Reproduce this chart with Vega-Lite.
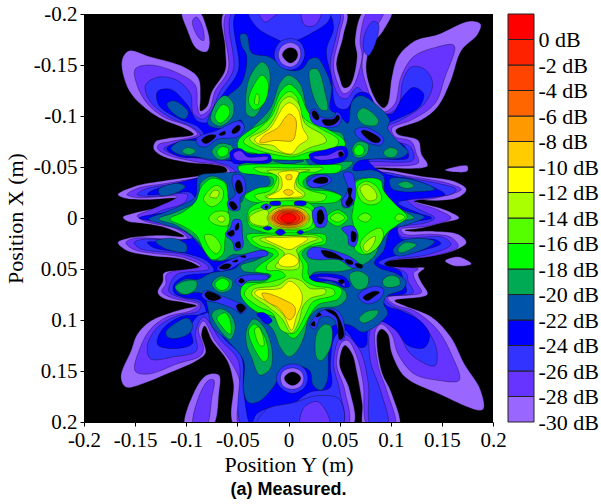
{"$schema":"https://vega.github.io/schema/vega-lite/v6.json","padding":{"left":4,"top":3,"right":0,"bottom":0},"background":"white","spacing":0,"config":{"view":{"stroke":null},"font":"Liberation Serif"},"hconcat":[{"width":409,"height":408,"view":{"fill":"black","stroke":null},"title":{"text":"(a) Measured.","orient":"bottom","font":"Liberation Sans","fontSize":18,"fontWeight":"bold","anchor":"middle","offset":6,"color":"black"},"data":{"values":[
{"p":1,"l":-30,"x":-0.062,"y":-0.203},{"p":1,"l":-30,"x":-0.062,"y":-0.167},{"p":1,"l":-30,"x":-0.062,"y":-0.145},{"p":1,"l":-30,"x":-0.075,"y":-0.124},{"p":1,"l":-30,"x":-0.08,"y":-0.109},{"p":1,"l":-30,"x":-0.086,"y":-0.105},{"p":1,"l":-30,"x":-0.086,"y":-0.119},{"p":1,"l":-30,"x":-0.088,"y":-0.137},{"p":1,"l":-30,"x":-0.102,"y":-0.148},{"p":1,"l":-30,"x":-0.135,"y":-0.158},{"p":1,"l":-30,"x":-0.156,"y":-0.164},{"p":1,"l":-30,"x":-0.163,"y":-0.154},{"p":1,"l":-30,"x":-0.156,"y":-0.125},{"p":1,"l":-30,"x":-0.138,"y":-0.106},{"p":1,"l":-30,"x":-0.122,"y":-0.096},{"p":1,"l":-30,"x":-0.102,"y":-0.088},{"p":1,"l":-30,"x":-0.093,"y":-0.082},{"p":1,"l":-30,"x":-0.119,"y":-0.078},{"p":1,"l":-30,"x":-0.13,"y":-0.075},{"p":1,"l":-30,"x":-0.132,"y":-0.068},{"p":1,"l":-30,"x":-0.122,"y":-0.06},{"p":1,"l":-30,"x":-0.102,"y":-0.055},{"p":1,"l":-30,"x":-0.063,"y":-0.05},{"p":1,"l":-30,"x":-0.06,"y":-0.046},{"p":1,"l":-30,"x":-0.09,"y":-0.041},{"p":1,"l":-30,"x":-0.119,"y":-0.037},{"p":1,"l":-30,"x":-0.151,"y":-0.031},{"p":1,"l":-30,"x":-0.167,"y":-0.023},{"p":1,"l":-30,"x":-0.159,"y":-0.019},{"p":1,"l":-30,"x":-0.135,"y":-0.018},{"p":1,"l":-30,"x":-0.109,"y":-0.019},{"p":1,"l":-30,"x":-0.125,"y":-0.011},{"p":1,"l":-30,"x":-0.151,"y":-0.005},{"p":1,"l":-30,"x":-0.162,"y":-0.001},{"p":1,"l":-30,"x":-0.158,"y":0.003},{"p":1,"l":-30,"x":-0.138,"y":0.006},{"p":1,"l":-30,"x":-0.119,"y":0.01},{"p":1,"l":-30,"x":-0.102,"y":0.018},{"p":1,"l":-30,"x":-0.125,"y":0.017},{"p":1,"l":-30,"x":-0.158,"y":0.02},{"p":1,"l":-30,"x":-0.167,"y":0.024},{"p":1,"l":-30,"x":-0.158,"y":0.032},{"p":1,"l":-30,"x":-0.135,"y":0.037},{"p":1,"l":-30,"x":-0.102,"y":0.041},{"p":1,"l":-30,"x":-0.085,"y":0.05},{"p":1,"l":-30,"x":-0.102,"y":0.051},{"p":1,"l":-30,"x":-0.122,"y":0.054},{"p":1,"l":-30,"x":-0.123,"y":0.062},{"p":1,"l":-30,"x":-0.128,"y":0.073},{"p":1,"l":-30,"x":-0.122,"y":0.079},{"p":1,"l":-30,"x":-0.102,"y":0.083},{"p":1,"l":-30,"x":-0.09,"y":0.086},{"p":1,"l":-30,"x":-0.102,"y":0.089},{"p":1,"l":-30,"x":-0.119,"y":0.094},{"p":1,"l":-30,"x":-0.135,"y":0.101},{"p":1,"l":-30,"x":-0.148,"y":0.114},{"p":1,"l":-30,"x":-0.154,"y":0.13},{"p":1,"l":-30,"x":-0.164,"y":0.156},{"p":1,"l":-30,"x":-0.159,"y":0.166},{"p":1,"l":-30,"x":-0.141,"y":0.162},{"p":1,"l":-30,"x":-0.119,"y":0.153},{"p":1,"l":-30,"x":-0.09,"y":0.14},{"p":1,"l":-30,"x":-0.081,"y":0.132},{"p":1,"l":-30,"x":-0.085,"y":0.114},{"p":1,"l":-30,"x":-0.082,"y":0.106},{"p":1,"l":-30,"x":-0.075,"y":0.12},{"p":1,"l":-30,"x":-0.06,"y":0.14},{"p":1,"l":-30,"x":-0.054,"y":0.162},{"p":1,"l":-30,"x":-0.052,"y":0.205},{"p":1,"l":-30,"x":0.062,"y":0.205},{"p":1,"l":-30,"x":0.06,"y":0.169},{"p":1,"l":-30,"x":0.05,"y":0.143},{"p":1,"l":-30,"x":0.055,"y":0.125},{"p":1,"l":-30,"x":0.062,"y":0.133},{"p":1,"l":-30,"x":0.067,"y":0.153},{"p":1,"l":-30,"x":0.072,"y":0.182},{"p":1,"l":-30,"x":0.074,"y":0.205},{"p":1,"l":-30,"x":0.108,"y":0.205},{"p":1,"l":-30,"x":0.101,"y":0.172},{"p":1,"l":-30,"x":0.091,"y":0.15},{"p":1,"l":-30,"x":0.087,"y":0.114},{"p":1,"l":-30,"x":0.091,"y":0.109},{"p":1,"l":-30,"x":0.097,"y":0.114},{"p":1,"l":-30,"x":0.101,"y":0.133},{"p":1,"l":-30,"x":0.114,"y":0.156},{"p":1,"l":-30,"x":0.146,"y":0.172},{"p":1,"l":-30,"x":0.19,"y":0.188},{"p":1,"l":-30,"x":0.188,"y":0.169},{"p":1,"l":-30,"x":0.172,"y":0.143},{"p":1,"l":-30,"x":0.159,"y":0.117},{"p":1,"l":-30,"x":0.14,"y":0.097},{"p":1,"l":-30,"x":0.114,"y":0.086},{"p":1,"l":-30,"x":0.104,"y":0.081},{"p":1,"l":-30,"x":0.136,"y":0.075},{"p":1,"l":-30,"x":0.13,"y":0.063},{"p":1,"l":-30,"x":0.127,"y":0.055},{"p":1,"l":-30,"x":0.133,"y":0.049},{"p":1,"l":-30,"x":0.107,"y":0.05},{"p":1,"l":-30,"x":0.088,"y":0.047},{"p":1,"l":-30,"x":0.097,"y":0.042},{"p":1,"l":-30,"x":0.13,"y":0.039},{"p":1,"l":-30,"x":0.162,"y":0.032},{"p":1,"l":-30,"x":0.174,"y":0.024},{"p":1,"l":-30,"x":0.166,"y":0.016},{"p":1,"l":-30,"x":0.143,"y":0.013},{"p":1,"l":-30,"x":0.12,"y":0.013},{"p":1,"l":-30,"x":0.114,"y":0.012},{"p":1,"l":-30,"x":0.13,"y":0.01},{"p":1,"l":-30,"x":0.15,"y":0.005},{"p":1,"l":-30,"x":0.167,"y":0},{"p":1,"l":-30,"x":0.153,"y":-0.008},{"p":1,"l":-30,"x":0.136,"y":-0.013},{"p":1,"l":-30,"x":0.114,"y":-0.019},{"p":1,"l":-30,"x":0.146,"y":-0.017},{"p":1,"l":-30,"x":0.166,"y":-0.02},{"p":1,"l":-30,"x":0.174,"y":-0.028},{"p":1,"l":-30,"x":0.162,"y":-0.036},{"p":1,"l":-30,"x":0.13,"y":-0.041},{"p":1,"l":-30,"x":0.104,"y":-0.046},{"p":1,"l":-30,"x":0.085,"y":-0.049},{"p":1,"l":-30,"x":0.136,"y":-0.051},{"p":1,"l":-30,"x":0.13,"y":-0.063},{"p":1,"l":-30,"x":0.127,"y":-0.076},{"p":1,"l":-30,"x":0.107,"y":-0.082},{"p":1,"l":-30,"x":0.105,"y":-0.086},{"p":1,"l":-30,"x":0.13,"y":-0.096},{"p":1,"l":-30,"x":0.146,"y":-0.109},{"p":1,"l":-30,"x":0.159,"y":-0.135},{"p":1,"l":-30,"x":0.169,"y":-0.164},{"p":1,"l":-30,"x":0.185,"y":-0.18},{"p":1,"l":-30,"x":0.188,"y":-0.19},{"p":1,"l":-30,"x":0.177,"y":-0.193},{"p":1,"l":-30,"x":0.146,"y":-0.18},{"p":1,"l":-30,"x":0.124,"y":-0.174},{"p":1,"l":-30,"x":0.107,"y":-0.158},{"p":1,"l":-30,"x":0.101,"y":-0.138},{"p":1,"l":-30,"x":0.097,"y":-0.112},{"p":1,"l":-30,"x":0.093,"y":-0.108},{"p":1,"l":-30,"x":0.088,"y":-0.112},{"p":1,"l":-30,"x":0.08,"y":-0.128},{"p":1,"l":-30,"x":0.076,"y":-0.148},{"p":1,"l":-30,"x":0.08,"y":-0.167},{"p":1,"l":-30,"x":0.093,"y":-0.184},{"p":1,"l":-30,"x":0.101,"y":-0.203},{"p":1,"l":-30,"x":0.074,"y":-0.203},{"p":1,"l":-30,"x":0.065,"y":-0.174},{"p":1,"l":-30,"x":0.067,"y":-0.158},{"p":1,"l":-30,"x":0.06,"y":-0.13},{"p":1,"l":-30,"x":0.054,"y":-0.128},{"p":1,"l":-30,"x":0.05,"y":-0.138},{"p":1,"l":-30,"x":0.047,"y":-0.151},{"p":1,"l":-30,"x":0.054,"y":-0.18},{"p":1,"l":-30,"x":0.056,"y":-0.203},
{"p":2,"l":-30,"x":-0.104,"y":-0.203},{"p":2,"l":-30,"x":-0.099,"y":-0.184},{"p":2,"l":-30,"x":-0.09,"y":-0.166},{"p":2,"l":-30,"x":-0.08,"y":-0.163},{"p":2,"l":-30,"x":-0.077,"y":-0.171},{"p":2,"l":-30,"x":-0.08,"y":-0.187},{"p":2,"l":-30,"x":-0.088,"y":-0.203},
{"p":3,"l":-30,"x":-0.101,"y":0.205},{"p":3,"l":-30,"x":-0.093,"y":0.172},{"p":3,"l":-30,"x":-0.08,"y":0.154},{"p":3,"l":-30,"x":-0.068,"y":0.154},{"p":3,"l":-30,"x":-0.068,"y":0.172},{"p":3,"l":-30,"x":-0.075,"y":0.205},
{"p":4,"l":-30,"x":0.153,"y":-0.047},{"p":4,"l":-30,"x":0.162,"y":-0.05},{"p":4,"l":-30,"x":0.175,"y":-0.051},{"p":4,"l":-30,"x":0.175,"y":-0.046},{"p":4,"l":-30,"x":0.162,"y":-0.045},
{"p":5,"l":-30,"x":0.153,"y":0.042},{"p":5,"l":-30,"x":0.166,"y":0.038},{"p":5,"l":-30,"x":0.179,"y":0.045},{"p":5,"l":-30,"x":0.162,"y":0.047},
{"p":6,"l":-28,"x":-0.059,"y":-0.203},{"p":6,"l":-28,"x":-0.059,"y":-0.145},{"p":6,"l":-28,"x":-0.072,"y":-0.124},{"p":6,"l":-28,"x":-0.077,"y":-0.107},{"p":6,"l":-28,"x":-0.086,"y":-0.101},{"p":6,"l":-28,"x":-0.089,"y":-0.109},{"p":6,"l":-28,"x":-0.091,"y":-0.13},{"p":6,"l":-28,"x":-0.106,"y":-0.141},{"p":6,"l":-28,"x":-0.135,"y":-0.15},{"p":6,"l":-28,"x":-0.15,"y":-0.146},{"p":6,"l":-28,"x":-0.148,"y":-0.13},{"p":6,"l":-28,"x":-0.138,"y":-0.112},{"p":6,"l":-28,"x":-0.122,"y":-0.099},{"p":6,"l":-28,"x":-0.096,"y":-0.089},{"p":6,"l":-28,"x":-0.089,"y":-0.082},{"p":6,"l":-28,"x":-0.115,"y":-0.075},{"p":6,"l":-28,"x":-0.127,"y":-0.072},{"p":6,"l":-28,"x":-0.128,"y":-0.068},{"p":6,"l":-28,"x":-0.119,"y":-0.062},{"p":6,"l":-28,"x":-0.09,"y":-0.055},{"p":6,"l":-28,"x":-0.063,"y":-0.051},{"p":6,"l":-28,"x":-0.057,"y":-0.045},{"p":6,"l":-28,"x":-0.09,"y":-0.039},{"p":6,"l":-28,"x":-0.119,"y":-0.034},{"p":6,"l":-28,"x":-0.148,"y":-0.029},{"p":6,"l":-28,"x":-0.158,"y":-0.023},{"p":6,"l":-28,"x":-0.148,"y":-0.02},{"p":6,"l":-28,"x":-0.109,"y":-0.021},{"p":6,"l":-28,"x":-0.135,"y":-0.008},{"p":6,"l":-28,"x":-0.148,"y":-0.002},{"p":6,"l":-28,"x":-0.141,"y":0.003},{"p":6,"l":-28,"x":-0.109,"y":0.011},{"p":6,"l":-28,"x":-0.099,"y":0.02},{"p":6,"l":-28,"x":-0.151,"y":0.02},{"p":6,"l":-28,"x":-0.159,"y":0.024},{"p":6,"l":-28,"x":-0.151,"y":0.031},{"p":6,"l":-28,"x":-0.102,"y":0.039},{"p":6,"l":-28,"x":-0.086,"y":0.047},{"p":6,"l":-28,"x":-0.119,"y":0.055},{"p":6,"l":-28,"x":-0.12,"y":0.065},{"p":6,"l":-28,"x":-0.124,"y":0.072},{"p":6,"l":-28,"x":-0.115,"y":0.078},{"p":6,"l":-28,"x":-0.088,"y":0.085},{"p":6,"l":-28,"x":-0.096,"y":0.091},{"p":6,"l":-28,"x":-0.119,"y":0.097},{"p":6,"l":-28,"x":-0.135,"y":0.109},{"p":6,"l":-28,"x":-0.145,"y":0.127},{"p":6,"l":-28,"x":-0.15,"y":0.15},{"p":6,"l":-28,"x":-0.137,"y":0.153},{"p":6,"l":-28,"x":-0.109,"y":0.143},{"p":6,"l":-28,"x":-0.086,"y":0.135},{"p":6,"l":-28,"x":-0.083,"y":0.128},{"p":6,"l":-28,"x":-0.088,"y":0.109},{"p":6,"l":-28,"x":-0.083,"y":0.101},{"p":6,"l":-28,"x":-0.072,"y":0.12},{"p":6,"l":-28,"x":-0.057,"y":0.14},{"p":6,"l":-28,"x":-0.047,"y":0.162},{"p":6,"l":-28,"x":-0.047,"y":0.205},{"p":6,"l":-28,"x":0.057,"y":0.205},{"p":6,"l":-28,"x":0.055,"y":0.169},{"p":6,"l":-28,"x":0.047,"y":0.143},{"p":6,"l":-28,"x":0.052,"y":0.122},{"p":6,"l":-28,"x":0.058,"y":0.12},{"p":6,"l":-28,"x":0.067,"y":0.136},{"p":6,"l":-28,"x":0.073,"y":0.162},{"p":6,"l":-28,"x":0.078,"y":0.205},{"p":6,"l":-28,"x":0.104,"y":0.205},{"p":6,"l":-28,"x":0.096,"y":0.169},{"p":6,"l":-28,"x":0.088,"y":0.146},{"p":6,"l":-28,"x":0.085,"y":0.11},{"p":6,"l":-28,"x":0.091,"y":0.104},{"p":6,"l":-28,"x":0.101,"y":0.114},{"p":6,"l":-28,"x":0.107,"y":0.133},{"p":6,"l":-28,"x":0.123,"y":0.153},{"p":6,"l":-28,"x":0.146,"y":0.159},{"p":6,"l":-28,"x":0.167,"y":0.159},{"p":6,"l":-28,"x":0.159,"y":0.133},{"p":6,"l":-28,"x":0.146,"y":0.11},{"p":6,"l":-28,"x":0.123,"y":0.091},{"p":6,"l":-28,"x":0.104,"y":0.085},{"p":6,"l":-28,"x":0.097,"y":0.078},{"p":6,"l":-28,"x":0.13,"y":0.073},{"p":6,"l":-28,"x":0.125,"y":0.063},{"p":6,"l":-28,"x":0.122,"y":0.054},{"p":6,"l":-28,"x":0.127,"y":0.05},{"p":6,"l":-28,"x":0.097,"y":0.047},{"p":6,"l":-28,"x":0.091,"y":0.044},{"p":6,"l":-28,"x":0.107,"y":0.041},{"p":6,"l":-28,"x":0.143,"y":0.037},{"p":6,"l":-28,"x":0.166,"y":0.028},{"p":6,"l":-28,"x":0.159,"y":0.019},{"p":6,"l":-28,"x":0.14,"y":0.016},{"p":6,"l":-28,"x":0.114,"y":0.016},{"p":6,"l":-28,"x":0.11,"y":0.011},{"p":6,"l":-28,"x":0.136,"y":0.008},{"p":6,"l":-28,"x":0.159,"y":0},{"p":6,"l":-28,"x":0.146,"y":-0.008},{"p":6,"l":-28,"x":0.123,"y":-0.016},{"p":6,"l":-28,"x":0.146,"y":-0.02},{"p":6,"l":-28,"x":0.169,"y":-0.028},{"p":6,"l":-28,"x":0.156,"y":-0.034},{"p":6,"l":-28,"x":0.13,"y":-0.039},{"p":6,"l":-28,"x":0.104,"y":-0.043},{"p":6,"l":-28,"x":0.088,"y":-0.046},{"p":6,"l":-28,"x":0.078,"y":-0.05},{"p":6,"l":-28,"x":0.127,"y":-0.054},{"p":6,"l":-28,"x":0.125,"y":-0.063},{"p":6,"l":-28,"x":0.12,"y":-0.075},{"p":6,"l":-28,"x":0.104,"y":-0.08},{"p":6,"l":-28,"x":0.101,"y":-0.088},{"p":6,"l":-28,"x":0.12,"y":-0.096},{"p":6,"l":-28,"x":0.143,"y":-0.112},{"p":6,"l":-28,"x":0.153,"y":-0.138},{"p":6,"l":-28,"x":0.162,"y":-0.169},{"p":6,"l":-28,"x":0.143,"y":-0.167},{"p":6,"l":-28,"x":0.122,"y":-0.158},{"p":6,"l":-28,"x":0.11,"y":-0.138},{"p":6,"l":-28,"x":0.104,"y":-0.112},{"p":6,"l":-28,"x":0.094,"y":-0.104},{"p":6,"l":-28,"x":0.086,"y":-0.107},{"p":6,"l":-28,"x":0.078,"y":-0.125},{"p":6,"l":-28,"x":0.072,"y":-0.148},{"p":6,"l":-28,"x":0.075,"y":-0.167},{"p":6,"l":-28,"x":0.086,"y":-0.187},{"p":6,"l":-28,"x":0.093,"y":-0.203},{"p":6,"l":-28,"x":0.078,"y":-0.203},{"p":6,"l":-28,"x":0.07,"y":-0.174},{"p":6,"l":-28,"x":0.072,"y":-0.158},{"p":6,"l":-28,"x":0.062,"y":-0.127},{"p":6,"l":-28,"x":0.054,"y":-0.122},{"p":6,"l":-28,"x":0.047,"y":-0.135},{"p":6,"l":-28,"x":0.044,"y":-0.151},{"p":6,"l":-28,"x":0.05,"y":-0.18},{"p":6,"l":-28,"x":0.052,"y":-0.203},
{"p":7,"l":-28,"x":-0.093,"y":0.205},{"p":7,"l":-28,"x":-0.088,"y":0.176},{"p":7,"l":-28,"x":-0.078,"y":0.159},{"p":7,"l":-28,"x":-0.073,"y":0.159},{"p":7,"l":-28,"x":-0.075,"y":0.176},{"p":7,"l":-28,"x":-0.081,"y":0.205},
{"p":8,"l":-28,"x":-0.094,"y":-0.193},{"p":8,"l":-28,"x":-0.088,"y":-0.177},{"p":8,"l":-28,"x":-0.083,"y":-0.174},{"p":8,"l":-28,"x":-0.084,"y":-0.187},{"p":8,"l":-28,"x":-0.09,"y":-0.197},
{"p":9,"l":-26,"x":-0.054,"y":-0.203},{"p":9,"l":-26,"x":-0.054,"y":-0.145},{"p":9,"l":-26,"x":-0.067,"y":-0.124},{"p":9,"l":-26,"x":-0.075,"y":-0.106},{"p":9,"l":-26,"x":-0.083,"y":-0.097},{"p":9,"l":-26,"x":-0.093,"y":-0.102},{"p":9,"l":-26,"x":-0.096,"y":-0.122},{"p":9,"l":-26,"x":-0.109,"y":-0.135},{"p":9,"l":-26,"x":-0.128,"y":-0.138},{"p":9,"l":-26,"x":-0.14,"y":-0.13},{"p":9,"l":-26,"x":-0.135,"y":-0.114},{"p":9,"l":-26,"x":-0.115,"y":-0.098},{"p":9,"l":-26,"x":-0.094,"y":-0.089},{"p":9,"l":-26,"x":-0.086,"y":-0.081},{"p":9,"l":-26,"x":-0.112,"y":-0.073},{"p":9,"l":-26,"x":-0.122,"y":-0.068},{"p":9,"l":-26,"x":-0.114,"y":-0.063},{"p":9,"l":-26,"x":-0.08,"y":-0.057},{"p":9,"l":-26,"x":-0.057,"y":-0.05},{"p":9,"l":-26,"x":-0.052,"y":-0.045},{"p":9,"l":-26,"x":-0.08,"y":-0.041},{"p":9,"l":-26,"x":-0.109,"y":-0.034},{"p":9,"l":-26,"x":-0.141,"y":-0.028},{"p":9,"l":-26,"x":-0.148,"y":-0.023},{"p":9,"l":-26,"x":-0.135,"y":-0.021},{"p":9,"l":-26,"x":-0.099,"y":-0.023},{"p":9,"l":-26,"x":-0.102,"y":-0.015},{"p":9,"l":-26,"x":-0.125,"y":-0.007},{"p":9,"l":-26,"x":-0.135,"y":-0.001},{"p":9,"l":-26,"x":-0.125,"y":0.003},{"p":9,"l":-26,"x":-0.102,"y":0.013},{"p":9,"l":-26,"x":-0.093,"y":0.021},{"p":9,"l":-26,"x":-0.143,"y":0.021},{"p":9,"l":-26,"x":-0.151,"y":0.024},{"p":9,"l":-26,"x":-0.145,"y":0.03},{"p":9,"l":-26,"x":-0.102,"y":0.036},{"p":9,"l":-26,"x":-0.081,"y":0.045},{"p":9,"l":-26,"x":-0.078,"y":0.05},{"p":9,"l":-26,"x":-0.109,"y":0.055},{"p":9,"l":-26,"x":-0.115,"y":0.063},{"p":9,"l":-26,"x":-0.117,"y":0.072},{"p":9,"l":-26,"x":-0.109,"y":0.077},{"p":9,"l":-26,"x":-0.086,"y":0.084},{"p":9,"l":-26,"x":-0.088,"y":0.091},{"p":9,"l":-26,"x":-0.109,"y":0.096},{"p":9,"l":-26,"x":-0.128,"y":0.107},{"p":9,"l":-26,"x":-0.138,"y":0.125},{"p":9,"l":-26,"x":-0.135,"y":0.138},{"p":9,"l":-26,"x":-0.112,"y":0.136},{"p":9,"l":-26,"x":-0.09,"y":0.13},{"p":9,"l":-26,"x":-0.091,"y":0.112},{"p":9,"l":-26,"x":-0.083,"y":0.097},{"p":9,"l":-26,"x":-0.067,"y":0.119},{"p":9,"l":-26,"x":-0.049,"y":0.14},{"p":9,"l":-26,"x":-0.044,"y":0.205},{"p":9,"l":-26,"x":0.052,"y":0.205},{"p":9,"l":-26,"x":0.05,"y":0.169},{"p":9,"l":-26,"x":0.044,"y":0.143},{"p":9,"l":-26,"x":0.049,"y":0.119},{"p":9,"l":-26,"x":0.055,"y":0.114},{"p":9,"l":-26,"x":0.07,"y":0.13},{"p":9,"l":-26,"x":0.078,"y":0.162},{"p":9,"l":-26,"x":0.081,"y":0.205},{"p":9,"l":-26,"x":0.097,"y":0.205},{"p":9,"l":-26,"x":0.089,"y":0.166},{"p":9,"l":-26,"x":0.08,"y":0.14},{"p":9,"l":-26,"x":0.081,"y":0.107},{"p":9,"l":-26,"x":0.091,"y":0.101},{"p":9,"l":-26,"x":0.107,"y":0.112},{"p":9,"l":-26,"x":0.119,"y":0.133},{"p":9,"l":-26,"x":0.143,"y":0.145},{"p":9,"l":-26,"x":0.145,"y":0.13},{"p":9,"l":-26,"x":0.136,"y":0.11},{"p":9,"l":-26,"x":0.12,"y":0.094},{"p":9,"l":-26,"x":0.101,"y":0.086},{"p":9,"l":-26,"x":0.094,"y":0.078},{"p":9,"l":-26,"x":0.122,"y":0.073},{"p":9,"l":-26,"x":0.117,"y":0.062},{"p":9,"l":-26,"x":0.115,"y":0.054},{"p":9,"l":-26,"x":0.094,"y":0.045},{"p":9,"l":-26,"x":0.101,"y":0.041},{"p":9,"l":-26,"x":0.136,"y":0.036},{"p":9,"l":-26,"x":0.159,"y":0.026},{"p":9,"l":-26,"x":0.151,"y":0.019},{"p":9,"l":-26,"x":0.11,"y":0.018},{"p":9,"l":-26,"x":0.107,"y":0.01},{"p":9,"l":-26,"x":0.133,"y":0.005},{"p":9,"l":-26,"x":0.143,"y":0},{"p":9,"l":-26,"x":0.123,"y":-0.011},{"p":9,"l":-26,"x":0.114,"y":-0.021},{"p":9,"l":-26,"x":0.159,"y":-0.023},{"p":9,"l":-26,"x":0.164,"y":-0.028},{"p":9,"l":-26,"x":0.146,"y":-0.034},{"p":9,"l":-26,"x":0.12,"y":-0.039},{"p":9,"l":-26,"x":0.101,"y":-0.044},{"p":9,"l":-26,"x":0.081,"y":-0.047},{"p":9,"l":-26,"x":0.075,"y":-0.054},{"p":9,"l":-26,"x":0.122,"y":-0.057},{"p":9,"l":-26,"x":0.119,"y":-0.07},{"p":9,"l":-26,"x":0.097,"y":-0.078},{"p":9,"l":-26,"x":0.096,"y":-0.089},{"p":9,"l":-26,"x":0.11,"y":-0.096},{"p":9,"l":-26,"x":0.133,"y":-0.112},{"p":9,"l":-26,"x":0.141,"y":-0.132},{"p":9,"l":-26,"x":0.133,"y":-0.146},{"p":9,"l":-26,"x":0.12,"y":-0.148},{"p":9,"l":-26,"x":0.112,"y":-0.135},{"p":9,"l":-26,"x":0.107,"y":-0.109},{"p":9,"l":-26,"x":0.093,"y":-0.101},{"p":9,"l":-26,"x":0.083,"y":-0.106},{"p":9,"l":-26,"x":0.076,"y":-0.119},{"p":9,"l":-26,"x":0.067,"y":-0.128},{"p":9,"l":-26,"x":0.057,"y":-0.117},{"p":9,"l":-26,"x":0.05,"y":-0.119},{"p":9,"l":-26,"x":0.042,"y":-0.138},{"p":9,"l":-26,"x":0.041,"y":-0.154},{"p":9,"l":-26,"x":0.047,"y":-0.18},{"p":9,"l":-26,"x":0.049,"y":-0.203},
{"p":10,"l":-26,"x":0.073,"y":-0.167},{"p":10,"l":-26,"x":0.078,"y":-0.159},{"p":10,"l":-26,"x":0.086,"y":-0.174},{"p":10,"l":-26,"x":0.088,"y":-0.19},{"p":10,"l":-26,"x":0.083,"y":-0.193},{"p":10,"l":-26,"x":0.076,"y":-0.184},
{"p":11,"l":-24,"x":-0.05,"y":-0.203},{"p":11,"l":-24,"x":-0.049,"y":-0.145},{"p":11,"l":-24,"x":-0.062,"y":-0.124},{"p":11,"l":-24,"x":-0.073,"y":-0.109},{"p":11,"l":-24,"x":-0.078,"y":-0.094},{"p":11,"l":-24,"x":-0.089,"y":-0.095},{"p":11,"l":-24,"x":-0.099,"y":-0.111},{"p":11,"l":-24,"x":-0.115,"y":-0.126},{"p":11,"l":-24,"x":-0.128,"y":-0.124},{"p":11,"l":-24,"x":-0.127,"y":-0.111},{"p":11,"l":-24,"x":-0.109,"y":-0.098},{"p":11,"l":-24,"x":-0.088,"y":-0.089},{"p":11,"l":-24,"x":-0.083,"y":-0.081},{"p":11,"l":-24,"x":-0.106,"y":-0.075},{"p":11,"l":-24,"x":-0.119,"y":-0.068},{"p":11,"l":-24,"x":-0.106,"y":-0.06},{"p":11,"l":-24,"x":-0.08,"y":-0.059},{"p":11,"l":-24,"x":-0.047,"y":-0.052},{"p":11,"l":-24,"x":-0.047,"y":-0.044},{"p":11,"l":-24,"x":-0.073,"y":-0.042},{"p":11,"l":-24,"x":-0.102,"y":-0.036},{"p":11,"l":-24,"x":-0.135,"y":-0.026},{"p":11,"l":-24,"x":-0.138,"y":-0.023},{"p":11,"l":-24,"x":-0.109,"y":-0.025},{"p":11,"l":-24,"x":-0.096,"y":-0.025},{"p":11,"l":-24,"x":-0.09,"y":-0.015},{"p":11,"l":-24,"x":-0.106,"y":-0.008},{"p":11,"l":-24,"x":-0.146,"y":0},{"p":11,"l":-24,"x":-0.102,"y":0.008},{"p":11,"l":-24,"x":-0.089,"y":0.018},{"p":11,"l":-24,"x":-0.13,"y":0.023},{"p":11,"l":-24,"x":-0.138,"y":0.024},{"p":11,"l":-24,"x":-0.132,"y":0.029},{"p":11,"l":-24,"x":-0.099,"y":0.035},{"p":11,"l":-24,"x":-0.08,"y":0.042},{"p":11,"l":-24,"x":-0.073,"y":0.052},{"p":11,"l":-24,"x":-0.102,"y":0.057},{"p":11,"l":-24,"x":-0.112,"y":0.065},{"p":11,"l":-24,"x":-0.112,"y":0.073},{"p":11,"l":-24,"x":-0.102,"y":0.078},{"p":11,"l":-24,"x":-0.086,"y":0.081},{"p":11,"l":-24,"x":-0.081,"y":0.093},{"p":11,"l":-24,"x":-0.106,"y":0.097},{"p":11,"l":-24,"x":-0.124,"y":0.11},{"p":11,"l":-24,"x":-0.128,"y":0.124},{"p":11,"l":-24,"x":-0.112,"y":0.128},{"p":11,"l":-24,"x":-0.094,"y":0.123},{"p":11,"l":-24,"x":-0.096,"y":0.107},{"p":11,"l":-24,"x":-0.086,"y":0.094},{"p":11,"l":-24,"x":-0.076,"y":0.094},{"p":11,"l":-24,"x":-0.064,"y":0.117},{"p":11,"l":-24,"x":-0.046,"y":0.136},{"p":11,"l":-24,"x":-0.044,"y":0.169},{"p":11,"l":-24,"x":-0.037,"y":0.203},{"p":11,"l":-24,"x":-0.031,"y":0.192},{"p":11,"l":-24,"x":-0.015,"y":0.185},{"p":11,"l":-24,"x":0,"y":0.185},{"p":11,"l":-24,"x":0.02,"y":0.171},{"p":11,"l":-24,"x":0.041,"y":0.166},{"p":11,"l":-24,"x":0.041,"y":0.143},{"p":11,"l":-24,"x":0.045,"y":0.117},{"p":11,"l":-24,"x":0.054,"y":0.109},{"p":11,"l":-24,"x":0.07,"y":0.127},{"p":11,"l":-24,"x":0.076,"y":0.125},{"p":11,"l":-24,"x":0.078,"y":0.109},{"p":11,"l":-24,"x":0.088,"y":0.101},{"p":11,"l":-24,"x":0.104,"y":0.109},{"p":11,"l":-24,"x":0.117,"y":0.125},{"p":11,"l":-24,"x":0.133,"y":0.127},{"p":11,"l":-24,"x":0.138,"y":0.115},{"p":11,"l":-24,"x":0.13,"y":0.102},{"p":11,"l":-24,"x":0.11,"y":0.091},{"p":11,"l":-24,"x":0.096,"y":0.086},{"p":11,"l":-24,"x":0.091,"y":0.078},{"p":11,"l":-24,"x":0.115,"y":0.073},{"p":11,"l":-24,"x":0.112,"y":0.06},{"p":11,"l":-24,"x":0.109,"y":0.052},{"p":11,"l":-24,"x":0.088,"y":0.044},{"p":11,"l":-24,"x":0.097,"y":0.039},{"p":11,"l":-24,"x":0.13,"y":0.032},{"p":11,"l":-24,"x":0.149,"y":0.025},{"p":11,"l":-24,"x":0.143,"y":0.021},{"p":11,"l":-24,"x":0.11,"y":0.02},{"p":11,"l":-24,"x":0.107,"y":0.008},{"p":11,"l":-24,"x":0.14,"y":0},{"p":11,"l":-24,"x":0.127,"y":-0.005},{"p":11,"l":-24,"x":0.107,"y":-0.015},{"p":11,"l":-24,"x":0.153,"y":-0.023},{"p":11,"l":-24,"x":0.146,"y":-0.028},{"p":11,"l":-24,"x":0.12,"y":-0.038},{"p":11,"l":-24,"x":0.104,"y":-0.041},{"p":11,"l":-24,"x":0.093,"y":-0.044},{"p":11,"l":-24,"x":0.078,"y":-0.057},{"p":11,"l":-24,"x":0.117,"y":-0.059},{"p":11,"l":-24,"x":0.112,"y":-0.072},{"p":11,"l":-24,"x":0.091,"y":-0.078},{"p":11,"l":-24,"x":0.088,"y":-0.089},{"p":11,"l":-24,"x":0.104,"y":-0.096},{"p":11,"l":-24,"x":0.128,"y":-0.109},{"p":11,"l":-24,"x":0.132,"y":-0.122},{"p":11,"l":-24,"x":0.122,"y":-0.128},{"p":11,"l":-24,"x":0.112,"y":-0.119},{"p":11,"l":-24,"x":0.101,"y":-0.102},{"p":11,"l":-24,"x":0.088,"y":-0.106},{"p":11,"l":-24,"x":0.078,"y":-0.122},{"p":11,"l":-24,"x":0.067,"y":-0.122},{"p":11,"l":-24,"x":0.057,"y":-0.107},{"p":11,"l":-24,"x":0.047,"y":-0.109},{"p":11,"l":-24,"x":0.042,"y":-0.138},{"p":11,"l":-24,"x":0.037,"y":-0.164},{"p":11,"l":-24,"x":0.044,"y":-0.187},{"p":11,"l":-24,"x":0.037,"y":-0.203},
{"p":12,"l":-26,"x":-0.039,"y":-0.203},{"p":12,"l":-26,"x":-0.031,"y":-0.187},{"p":12,"l":-26,"x":-0.015,"y":-0.177},{"p":12,"l":-26,"x":0,"y":-0.172},{"p":12,"l":-26,"x":0.029,"y":-0.185},{"p":12,"l":-26,"x":0.039,"y":-0.193},{"p":12,"l":-26,"x":0.041,"y":-0.203},
{"p":13,"l":-28,"x":-0.029,"y":-0.203},{"p":13,"l":-28,"x":-0.023,"y":-0.192},{"p":13,"l":-28,"x":-0.015,"y":-0.197},{"p":13,"l":-28,"x":-0.008,"y":-0.203},
{"p":14,"l":-28,"x":0.013,"y":-0.203},{"p":14,"l":-28,"x":0.016,"y":-0.189},{"p":14,"l":-28,"x":0.026,"y":-0.189},{"p":14,"l":-28,"x":0.032,"y":-0.203},
{"p":15,"l":-26,"x":-0.031,"y":0.205},{"p":15,"l":-26,"x":-0.022,"y":0.188},{"p":15,"l":-26,"x":0.005,"y":0.181},{"p":15,"l":-26,"x":0.03,"y":0.174},{"p":15,"l":-26,"x":0.05,"y":0.178},{"p":15,"l":-26,"x":0.052,"y":0.205},
{"p":16,"l":-28,"x":0.012,"y":0.205},{"p":16,"l":-28,"x":0.015,"y":0.186},{"p":16,"l":-28,"x":0.028,"y":0.18},{"p":16,"l":-28,"x":0.038,"y":0.192},{"p":16,"l":-28,"x":0.04,"y":0.205},
{"p":17,"l":-22,"x":-0.036,"y":-0.162},{"p":17,"l":-22,"x":-0.041,"y":-0.18},{"p":17,"l":-22,"x":-0.047,"y":-0.18},{"p":17,"l":-22,"x":-0.046,"y":-0.169},{"p":17,"l":-22,"x":-0.041,"y":-0.159},{"p":17,"l":-22,"x":-0.046,"y":-0.132},{"p":17,"l":-22,"x":-0.06,"y":-0.119},{"p":17,"l":-22,"x":-0.075,"y":-0.104},{"p":17,"l":-22,"x":-0.079,"y":-0.092},{"p":17,"l":-22,"x":-0.07,"y":-0.088},{"p":17,"l":-22,"x":-0.057,"y":-0.089},{"p":17,"l":-22,"x":-0.047,"y":-0.096},{"p":17,"l":-22,"x":-0.044,"y":-0.088},{"p":17,"l":-22,"x":-0.063,"y":-0.08},{"p":17,"l":-22,"x":-0.081,"y":-0.075},{"p":17,"l":-22,"x":-0.093,"y":-0.076},{"p":17,"l":-22,"x":-0.107,"y":-0.075},{"p":17,"l":-22,"x":-0.115,"y":-0.068},{"p":17,"l":-22,"x":-0.106,"y":-0.062},{"p":17,"l":-22,"x":-0.09,"y":-0.06},{"p":17,"l":-22,"x":-0.076,"y":-0.057},{"p":17,"l":-22,"x":-0.044,"y":-0.055},{"p":17,"l":-22,"x":-0.044,"y":-0.047},{"p":17,"l":-22,"x":-0.07,"y":-0.044},{"p":17,"l":-22,"x":-0.088,"y":-0.041},{"p":17,"l":-22,"x":-0.091,"y":-0.021},{"p":17,"l":-22,"x":-0.106,"y":-0.012},{"p":17,"l":-22,"x":-0.12,"y":-0.006},{"p":17,"l":-22,"x":-0.137,"y":0.001},{"p":17,"l":-22,"x":-0.12,"y":0.007},{"p":17,"l":-22,"x":-0.1,"y":0.014},{"p":17,"l":-22,"x":-0.086,"y":0.028},{"p":17,"l":-22,"x":-0.075,"y":0.042},{"p":17,"l":-22,"x":-0.057,"y":0.041},{"p":17,"l":-22,"x":-0.047,"y":0.042},{"p":17,"l":-22,"x":-0.052,"y":0.049},{"p":17,"l":-22,"x":-0.076,"y":0.054},{"p":17,"l":-22,"x":-0.088,"y":0.06},{"p":17,"l":-22,"x":-0.102,"y":0.06},{"p":17,"l":-22,"x":-0.111,"y":0.067},{"p":17,"l":-22,"x":-0.106,"y":0.075},{"p":17,"l":-22,"x":-0.091,"y":0.073},{"p":17,"l":-22,"x":-0.083,"y":0.075},{"p":17,"l":-22,"x":-0.079,"y":0.088},{"p":17,"l":-22,"x":-0.075,"y":0.106},{"p":17,"l":-22,"x":-0.06,"y":0.12},{"p":17,"l":-22,"x":-0.044,"y":0.14},{"p":17,"l":-22,"x":-0.044,"y":0.169},{"p":17,"l":-22,"x":-0.039,"y":0.181},{"p":17,"l":-22,"x":-0.029,"y":0.18},{"p":17,"l":-22,"x":-0.015,"y":0.166},{"p":17,"l":-22,"x":-0.007,"y":0.153},{"p":17,"l":-22,"x":0,"y":0.146},{"p":17,"l":-22,"x":0.01,"y":0.145},{"p":17,"l":-22,"x":0.021,"y":0.15},{"p":17,"l":-22,"x":0.024,"y":0.164},{"p":17,"l":-22,"x":0.032,"y":0.169},{"p":17,"l":-22,"x":0.038,"y":0.159},{"p":17,"l":-22,"x":0.039,"y":0.136},{"p":17,"l":-22,"x":0.042,"y":0.107},{"p":17,"l":-22,"x":0.052,"y":0.104},{"p":17,"l":-22,"x":0.062,"y":0.106},{"p":17,"l":-22,"x":0.073,"y":0.112},{"p":17,"l":-22,"x":0.097,"y":0.094},{"p":17,"l":-22,"x":0.093,"y":0.083},{"p":17,"l":-22,"x":0.097,"y":0.076},{"p":17,"l":-22,"x":0.112,"y":0.07},{"p":17,"l":-22,"x":0.115,"y":0.062},{"p":17,"l":-22,"x":0.104,"y":0.054},{"p":17,"l":-22,"x":0.089,"y":0.049},{"p":17,"l":-22,"x":0.084,"y":0.044},{"p":17,"l":-22,"x":0.093,"y":0.032},{"p":17,"l":-22,"x":0.1,"y":0.012},{"p":17,"l":-22,"x":0.115,"y":0.007},{"p":17,"l":-22,"x":0.133,"y":-0.001},{"p":17,"l":-22,"x":0.115,"y":-0.007},{"p":17,"l":-22,"x":0.1,"y":-0.014},{"p":17,"l":-22,"x":0.094,"y":-0.025},{"p":17,"l":-22,"x":0.093,"y":-0.041},{"p":17,"l":-22,"x":0.083,"y":-0.047},{"p":17,"l":-22,"x":0.063,"y":-0.047},{"p":17,"l":-22,"x":0.067,"y":-0.055},{"p":17,"l":-22,"x":0.086,"y":-0.058},{"p":17,"l":-22,"x":0.11,"y":-0.059},{"p":17,"l":-22,"x":0.117,"y":-0.065},{"p":17,"l":-22,"x":0.11,"y":-0.072},{"p":17,"l":-22,"x":0.097,"y":-0.088},{"p":17,"l":-22,"x":0.099,"y":-0.096},{"p":17,"l":-22,"x":0.085,"y":-0.112},{"p":17,"l":-22,"x":0.07,"y":-0.12},{"p":17,"l":-22,"x":0.062,"y":-0.114},{"p":17,"l":-22,"x":0.058,"y":-0.093},{"p":17,"l":-22,"x":0.049,"y":-0.102},{"p":17,"l":-22,"x":0.041,"y":-0.106},{"p":17,"l":-22,"x":0.042,"y":-0.128},{"p":17,"l":-22,"x":0.036,"y":-0.145},{"p":17,"l":-22,"x":0.028,"y":-0.157},{"p":17,"l":-22,"x":0.021,"y":-0.156},{"p":17,"l":-22,"x":0.013,"y":-0.146},{"p":17,"l":-22,"x":0,"y":-0.145},{"p":17,"l":-22,"x":-0.019,"y":-0.158},
{"p":18,"l":-22,"x":-0.119,"y":-0.112},{"p":18,"l":-22,"x":-0.112,"y":-0.115},{"p":18,"l":-22,"x":-0.098,"y":-0.104},{"p":18,"l":-22,"x":-0.101,"y":-0.097},{"p":18,"l":-22,"x":-0.112,"y":-0.102},
{"p":19,"l":-22,"x":-0.127,"y":-0.028},{"p":19,"l":-22,"x":-0.109,"y":-0.034},{"p":19,"l":-22,"x":-0.101,"y":-0.031},{"p":19,"l":-22,"x":-0.109,"y":-0.025},{"p":19,"l":-22,"x":-0.125,"y":-0.022},
{"p":20,"l":-22,"x":-0.13,"y":0.023},{"p":20,"l":-22,"x":-0.112,"y":0.02},{"p":20,"l":-22,"x":-0.1,"y":0.026},{"p":20,"l":-22,"x":-0.1,"y":0.033},{"p":20,"l":-22,"x":-0.118,"y":0.031},
{"p":21,"l":-22,"x":-0.12,"y":0.112},{"p":21,"l":-22,"x":-0.112,"y":0.104},{"p":21,"l":-22,"x":-0.099,"y":0.098},{"p":21,"l":-22,"x":-0.094,"y":0.104},{"p":21,"l":-22,"x":-0.096,"y":0.112},{"p":21,"l":-22,"x":-0.109,"y":0.118},{"p":21,"l":-22,"x":-0.118,"y":0.117},
{"p":22,"l":-22,"x":0.102,"y":0.032},{"p":22,"l":-22,"x":0.11,"y":0.023},{"p":22,"l":-22,"x":0.13,"y":0.02},{"p":22,"l":-22,"x":0.143,"y":0.023},{"p":22,"l":-22,"x":0.136,"y":0.029},{"p":22,"l":-22,"x":0.12,"y":0.035},{"p":22,"l":-22,"x":0.106,"y":0.037},
{"p":23,"l":-22,"x":0.099,"y":-0.038},{"p":23,"l":-22,"x":0.114,"y":-0.039},{"p":23,"l":-22,"x":0.14,"y":-0.031},{"p":23,"l":-22,"x":0.143,"y":-0.028},{"p":23,"l":-22,"x":0.13,"y":-0.026},{"p":23,"l":-22,"x":0.11,"y":-0.026},{"p":23,"l":-22,"x":0.101,"y":-0.029},
{"p":24,"l":-20,"x":0,"y":-0.14},{"p":24,"l":-20,"x":-0.008,"y":-0.133},{"p":24,"l":-20,"x":-0.018,"y":-0.107},{"p":24,"l":-20,"x":-0.036,"y":-0.088},{"p":24,"l":-20,"x":-0.047,"y":-0.076},{"p":24,"l":-20,"x":-0.049,"y":-0.067},{"p":24,"l":-20,"x":-0.037,"y":-0.063},{"p":24,"l":-20,"x":-0.018,"y":-0.063},{"p":24,"l":-20,"x":-0.016,"y":-0.056},{"p":24,"l":-20,"x":-0.044,"y":-0.054},{"p":24,"l":-20,"x":-0.05,"y":-0.05},{"p":24,"l":-20,"x":-0.044,"y":-0.046},{"p":24,"l":-20,"x":-0.021,"y":-0.041},{"p":24,"l":-20,"x":-0.018,"y":-0.034},{"p":24,"l":-20,"x":-0.034,"y":-0.026},{"p":24,"l":-20,"x":-0.041,"y":-0.025},{"p":24,"l":-20,"x":-0.047,"y":-0.015},{"p":24,"l":-20,"x":-0.06,"y":-0.02},{"p":24,"l":-20,"x":-0.06,"y":-0.033},{"p":24,"l":-20,"x":-0.067,"y":-0.039},{"p":24,"l":-20,"x":-0.076,"y":-0.041},{"p":24,"l":-20,"x":-0.086,"y":-0.034},{"p":24,"l":-20,"x":-0.088,"y":-0.018},{"p":24,"l":-20,"x":-0.11,"y":-0.006},{"p":24,"l":-20,"x":-0.127,"y":0.001},{"p":24,"l":-20,"x":-0.11,"y":0.007},{"p":24,"l":-20,"x":-0.088,"y":0.023},{"p":24,"l":-20,"x":-0.078,"y":0.038},{"p":24,"l":-20,"x":-0.065,"y":0.042},{"p":24,"l":-20,"x":-0.055,"y":0.036},{"p":24,"l":-20,"x":-0.044,"y":0.036},{"p":24,"l":-20,"x":-0.024,"y":0.032},{"p":24,"l":-20,"x":-0.02,"y":0.034},{"p":24,"l":-20,"x":-0.031,"y":0.041},{"p":24,"l":-20,"x":-0.047,"y":0.047},{"p":24,"l":-20,"x":-0.044,"y":0.052},{"p":24,"l":-20,"x":-0.02,"y":0.055},{"p":24,"l":-20,"x":-0.018,"y":0.058},{"p":24,"l":-20,"x":-0.041,"y":0.062},{"p":24,"l":-20,"x":-0.046,"y":0.073},{"p":24,"l":-20,"x":-0.041,"y":0.084},{"p":24,"l":-20,"x":-0.031,"y":0.093},{"p":24,"l":-20,"x":-0.015,"y":0.11},{"p":24,"l":-20,"x":-0.008,"y":0.127},{"p":24,"l":-20,"x":0,"y":0.136},{"p":24,"l":-20,"x":0.007,"y":0.132},{"p":24,"l":-20,"x":0.015,"y":0.117},{"p":24,"l":-20,"x":0.02,"y":0.098},{"p":24,"l":-20,"x":0.029,"y":0.089},{"p":24,"l":-20,"x":0.049,"y":0.086},{"p":24,"l":-20,"x":0.057,"y":0.078},{"p":24,"l":-20,"x":0.054,"y":0.07},{"p":24,"l":-20,"x":0.032,"y":0.063},{"p":24,"l":-20,"x":0.022,"y":0.06},{"p":24,"l":-20,"x":0.024,"y":0.054},{"p":24,"l":-20,"x":0.054,"y":0.052},{"p":24,"l":-20,"x":0.076,"y":0.044},{"p":24,"l":-20,"x":0.085,"y":0.036},{"p":24,"l":-20,"x":0.091,"y":0.02},{"p":24,"l":-20,"x":0.097,"y":0.008},{"p":24,"l":-20,"x":0.11,"y":0.003},{"p":24,"l":-20,"x":0.123,"y":0},{"p":24,"l":-20,"x":0.11,"y":-0.008},{"p":24,"l":-20,"x":0.097,"y":-0.015},{"p":24,"l":-20,"x":0.091,"y":-0.028},{"p":24,"l":-20,"x":0.081,"y":-0.037},{"p":24,"l":-20,"x":0.071,"y":-0.039},{"p":24,"l":-20,"x":0.063,"y":-0.034},{"p":24,"l":-20,"x":0.067,"y":-0.018},{"p":24,"l":-20,"x":0.054,"y":-0.01},{"p":24,"l":-20,"x":0.049,"y":-0.023},{"p":24,"l":-20,"x":0.032,"y":-0.029},{"p":24,"l":-20,"x":0.02,"y":-0.031},{"p":24,"l":-20,"x":0.018,"y":-0.039},{"p":24,"l":-20,"x":0.032,"y":-0.044},{"p":24,"l":-20,"x":0.055,"y":-0.047},{"p":24,"l":-20,"x":0.063,"y":-0.055},{"p":24,"l":-20,"x":0.021,"y":-0.052},{"p":24,"l":-20,"x":0.018,"y":-0.055},{"p":24,"l":-20,"x":0.016,"y":-0.065},{"p":24,"l":-20,"x":0.042,"y":-0.07},{"p":24,"l":-20,"x":0.054,"y":-0.075},{"p":24,"l":-20,"x":0.052,"y":-0.083},{"p":24,"l":-20,"x":0.039,"y":-0.086},{"p":24,"l":-20,"x":0.023,"y":-0.093},{"p":24,"l":-20,"x":0.018,"y":-0.107},{"p":24,"l":-20,"x":0.011,"y":-0.132},
{"p":25,"l":-20,"x":-0.042,"y":-0.115},{"p":25,"l":-20,"x":-0.038,"y":-0.138},{"p":25,"l":-20,"x":-0.026,"y":-0.153},{"p":25,"l":-20,"x":-0.02,"y":-0.148},{"p":25,"l":-20,"x":-0.018,"y":-0.132},{"p":25,"l":-20,"x":-0.025,"y":-0.112},{"p":25,"l":-20,"x":-0.034,"y":-0.099},{"p":25,"l":-20,"x":-0.041,"y":-0.102},
{"p":26,"l":-20,"x":-0.076,"y":-0.096},{"p":26,"l":-20,"x":-0.07,"y":-0.114},{"p":26,"l":-20,"x":-0.062,"y":-0.12},{"p":26,"l":-20,"x":-0.054,"y":-0.112},{"p":26,"l":-20,"x":-0.055,"y":-0.099},{"p":26,"l":-20,"x":-0.067,"y":-0.09},
{"p":27,"l":-20,"x":-0.104,"y":-0.065},{"p":27,"l":-20,"x":-0.099,"y":-0.069},{"p":27,"l":-20,"x":-0.091,"y":-0.066},{"p":27,"l":-20,"x":-0.096,"y":-0.062},
{"p":28,"l":-20,"x":-0.075,"y":-0.065},{"p":28,"l":-20,"x":-0.067,"y":-0.073},{"p":28,"l":-20,"x":-0.055,"y":-0.07},{"p":28,"l":-20,"x":-0.055,"y":-0.062},{"p":28,"l":-20,"x":-0.067,"y":-0.057},
{"p":29,"l":-20,"x":0.06,"y":0.055},{"p":29,"l":-20,"x":0.068,"y":0.052},{"p":29,"l":-20,"x":0.078,"y":0.058},{"p":29,"l":-20,"x":0.076,"y":0.068},{"p":29,"l":-20,"x":0.067,"y":0.07},{"p":29,"l":-20,"x":0.061,"y":0.063},
{"p":30,"l":-20,"x":0.092,"y":0.062},{"p":30,"l":-20,"x":0.097,"y":0.057},{"p":30,"l":-20,"x":0.107,"y":0.058},{"p":30,"l":-20,"x":0.109,"y":0.065},{"p":30,"l":-20,"x":0.101,"y":0.068},{"p":30,"l":-20,"x":0.094,"y":0.067},
{"p":31,"l":-20,"x":0.069,"y":0.099},{"p":31,"l":-20,"x":0.076,"y":0.092},{"p":31,"l":-20,"x":0.088,"y":0.091},{"p":31,"l":-20,"x":0.085,"y":0.097},{"p":31,"l":-20,"x":0.073,"y":0.103},
{"p":32,"l":-20,"x":0.067,"y":-0.101},{"p":32,"l":-20,"x":0.073,"y":-0.108},{"p":32,"l":-20,"x":0.088,"y":-0.096},{"p":32,"l":-20,"x":0.086,"y":-0.091},{"p":32,"l":-20,"x":0.073,"y":-0.092},
{"p":33,"l":-20,"x":0.093,"y":-0.064},{"p":33,"l":-20,"x":0.099,"y":-0.069},{"p":33,"l":-20,"x":0.107,"y":-0.066},{"p":33,"l":-20,"x":0.104,"y":-0.06},{"p":33,"l":-20,"x":0.096,"y":-0.06},
{"p":34,"l":-20,"x":0.062,"y":-0.067},{"p":34,"l":-20,"x":0.068,"y":-0.075},{"p":34,"l":-20,"x":0.078,"y":-0.072},{"p":34,"l":-20,"x":0.076,"y":-0.062},{"p":34,"l":-20,"x":0.067,"y":-0.059},
{"p":35,"l":-20,"x":0.021,"y":-0.145},{"p":35,"l":-20,"x":0.028,"y":-0.146},{"p":35,"l":-20,"x":0.036,"y":-0.122},{"p":35,"l":-20,"x":0.038,"y":-0.106},{"p":35,"l":-20,"x":0.032,"y":-0.106},{"p":35,"l":-20,"x":0.026,"y":-0.115},{"p":35,"l":-20,"x":0.021,"y":-0.132},
{"p":36,"l":-20,"x":0.107,"y":-0.033},{"p":36,"l":-20,"x":0.115,"y":-0.036},{"p":36,"l":-20,"x":0.123,"y":-0.031},{"p":36,"l":-20,"x":0.114,"y":-0.029},
{"p":37,"l":-20,"x":0.107,"y":0.031},{"p":37,"l":-20,"x":0.114,"y":0.024},{"p":37,"l":-20,"x":0.125,"y":0.026},{"p":37,"l":-20,"x":0.117,"y":0.032},{"p":37,"l":-20,"x":0.109,"y":0.034},
{"p":38,"l":-20,"x":-0.111,"y":0.068},{"p":38,"l":-20,"x":-0.102,"y":0.062},{"p":38,"l":-20,"x":-0.09,"y":0.062},{"p":38,"l":-20,"x":-0.091,"y":0.07},{"p":38,"l":-20,"x":-0.102,"y":0.075},
{"p":39,"l":-20,"x":-0.075,"y":0.065},{"p":39,"l":-20,"x":-0.067,"y":0.057},{"p":39,"l":-20,"x":-0.055,"y":0.062},{"p":39,"l":-20,"x":-0.057,"y":0.07},{"p":39,"l":-20,"x":-0.067,"y":0.073},
{"p":40,"l":-20,"x":-0.075,"y":0.094},{"p":40,"l":-20,"x":-0.067,"y":0.089},{"p":40,"l":-20,"x":-0.057,"y":0.094},{"p":40,"l":-20,"x":-0.052,"y":0.107},{"p":40,"l":-20,"x":-0.057,"y":0.119},{"p":40,"l":-20,"x":-0.067,"y":0.11},
{"p":41,"l":-20,"x":-0.041,"y":0.109},{"p":41,"l":-20,"x":-0.034,"y":0.099},{"p":41,"l":-20,"x":-0.024,"y":0.107},{"p":41,"l":-20,"x":-0.016,"y":0.13},{"p":41,"l":-20,"x":-0.018,"y":0.148},{"p":41,"l":-20,"x":-0.028,"y":0.154},{"p":41,"l":-20,"x":-0.036,"y":0.137},{"p":41,"l":-20,"x":-0.041,"y":0.124},
{"p":42,"l":-20,"x":0.026,"y":0.13},{"p":42,"l":-20,"x":0.028,"y":0.112},{"p":42,"l":-20,"x":0.036,"y":0.104},{"p":42,"l":-20,"x":0.042,"y":0.107},{"p":42,"l":-20,"x":0.041,"y":0.127},{"p":42,"l":-20,"x":0.032,"y":0.14},{"p":42,"l":-20,"x":0.028,"y":0.138},
{"p":125,"l":-22,"x":-0.015,"y":-0.056},{"p":125,"l":-22,"x":0,"y":-0.057},{"p":125,"l":-22,"x":0.015,"y":-0.056},{"p":125,"l":-22,"x":0,"y":-0.053},
{"p":43,"l":-18,"x":-0.039,"y":-0.114},{"p":43,"l":-18,"x":-0.034,"y":-0.13},{"p":43,"l":-18,"x":-0.026,"y":-0.14},{"p":43,"l":-18,"x":-0.02,"y":-0.133},{"p":43,"l":-18,"x":-0.023,"y":-0.114},{"p":43,"l":-18,"x":-0.033,"y":-0.106},
{"p":44,"l":-18,"x":-0.072,"y":-0.099},{"p":44,"l":-18,"x":-0.065,"y":-0.111},{"p":44,"l":-18,"x":-0.059,"y":-0.109},{"p":44,"l":-18,"x":-0.058,"y":-0.101},{"p":44,"l":-18,"x":-0.067,"y":-0.093},
{"p":45,"l":-18,"x":-0.07,"y":-0.065},{"p":45,"l":-18,"x":-0.065,"y":-0.07},{"p":45,"l":-18,"x":-0.059,"y":-0.068},{"p":45,"l":-18,"x":-0.06,"y":-0.062},{"p":45,"l":-18,"x":-0.067,"y":-0.06},
{"p":46,"l":-18,"x":0.064,"y":-0.067},{"p":46,"l":-18,"x":0.069,"y":-0.072},{"p":46,"l":-18,"x":0.074,"y":-0.068},{"p":46,"l":-18,"x":0.072,"y":-0.062},{"p":46,"l":-18,"x":0.066,"y":-0.062},
{"p":47,"l":-18,"x":-0.072,"y":0.065},{"p":47,"l":-18,"x":-0.065,"y":0.059},{"p":47,"l":-18,"x":-0.058,"y":0.063},{"p":47,"l":-18,"x":-0.06,"y":0.069},{"p":47,"l":-18,"x":-0.067,"y":0.071},
{"p":48,"l":-18,"x":-0.07,"y":0.098},{"p":48,"l":-18,"x":-0.062,"y":0.093},{"p":48,"l":-18,"x":-0.057,"y":0.101},{"p":48,"l":-18,"x":-0.057,"y":0.114},{"p":48,"l":-18,"x":-0.067,"y":0.104},
{"p":49,"l":-18,"x":-0.039,"y":0.11},{"p":49,"l":-18,"x":-0.033,"y":0.104},{"p":49,"l":-18,"x":-0.023,"y":0.117},{"p":49,"l":-18,"x":-0.02,"y":0.137},{"p":49,"l":-18,"x":-0.024,"y":0.141},{"p":49,"l":-18,"x":-0.034,"y":0.127},
{"p":50,"l":-16,"x":-0.033,"y":0.109},{"p":50,"l":-16,"x":-0.029,"y":0.107},{"p":50,"l":-16,"x":-0.024,"y":0.125},{"p":50,"l":-16,"x":-0.028,"y":0.125},
{"p":51,"l":-16,"x":-0.033,"y":-0.112},{"p":51,"l":-16,"x":-0.031,"y":-0.122},{"p":51,"l":-16,"x":-0.029,"y":-0.12},{"p":51,"l":-16,"x":-0.03,"y":-0.111},
{"p":52,"l":-18,"x":0.001,"y":-0.131},{"p":52,"l":-18,"x":0.011,"y":-0.122},{"p":52,"l":-18,"x":0.018,"y":-0.106},{"p":52,"l":-18,"x":0.028,"y":-0.093},{"p":52,"l":-18,"x":0.044,"y":-0.084},{"p":52,"l":-18,"x":0.055,"y":-0.075},{"p":52,"l":-18,"x":0.052,"y":-0.063},{"p":52,"l":-18,"x":0.034,"y":-0.063},{"p":52,"l":-18,"x":0.021,"y":-0.058},{"p":52,"l":-18,"x":-0.018,"y":-0.058},{"p":52,"l":-18,"x":-0.031,"y":-0.063},{"p":52,"l":-18,"x":-0.049,"y":-0.068},{"p":52,"l":-18,"x":-0.049,"y":-0.076},{"p":52,"l":-18,"x":-0.038,"y":-0.086},{"p":52,"l":-18,"x":-0.021,"y":-0.096},{"p":52,"l":-18,"x":-0.013,"y":-0.112},{"p":52,"l":-18,"x":-0.008,"y":-0.124},
{"p":53,"l":-18,"x":-0.049,"y":-0.05},{"p":53,"l":-18,"x":-0.018,"y":-0.053},{"p":53,"l":-18,"x":0.021,"y":-0.052},{"p":53,"l":-18,"x":0.052,"y":-0.051},{"p":53,"l":-18,"x":0.049,"y":-0.045},{"p":53,"l":-18,"x":0.021,"y":-0.042},{"p":53,"l":-18,"x":0.014,"y":-0.035},{"p":53,"l":-18,"x":0.018,"y":-0.029},{"p":53,"l":-18,"x":0.041,"y":-0.026},{"p":53,"l":-18,"x":0.052,"y":-0.021},{"p":53,"l":-18,"x":0.047,"y":-0.016},{"p":53,"l":-18,"x":0.001,"y":-0.015},{"p":53,"l":-18,"x":-0.036,"y":-0.016},{"p":53,"l":-18,"x":-0.043,"y":-0.021},{"p":53,"l":-18,"x":-0.031,"y":-0.029},{"p":53,"l":-18,"x":-0.016,"y":-0.032},{"p":53,"l":-18,"x":-0.015,"y":-0.039},{"p":53,"l":-18,"x":-0.028,"y":-0.042},{"p":53,"l":-18,"x":-0.047,"y":-0.045},
{"p":54,"l":-18,"x":-0.039,"y":-0.008},{"p":54,"l":-18,"x":-0.028,"y":-0.015},{"p":54,"l":-18,"x":0,"y":-0.018},{"p":54,"l":-18,"x":0.021,"y":-0.014},{"p":54,"l":-18,"x":0.026,"y":-0.008},{"p":54,"l":-18,"x":0.026,"y":0.009},{"p":54,"l":-18,"x":0.018,"y":0.013},{"p":54,"l":-18,"x":0,"y":0.017},{"p":54,"l":-18,"x":-0.028,"y":0.013},{"p":54,"l":-18,"x":-0.039,"y":0.007},
{"p":55,"l":-18,"x":-0.041,"y":0.017},{"p":55,"l":-18,"x":-0.036,"y":0.026},{"p":55,"l":-18,"x":-0.02,"y":0.033},{"p":55,"l":-18,"x":-0.015,"y":0.036},{"p":55,"l":-18,"x":-0.028,"y":0.046},{"p":55,"l":-18,"x":-0.033,"y":0.052},{"p":55,"l":-18,"x":-0.017,"y":0.056},{"p":55,"l":-18,"x":-0.023,"y":0.062},{"p":55,"l":-18,"x":-0.044,"y":0.065},{"p":55,"l":-18,"x":-0.047,"y":0.074},{"p":55,"l":-18,"x":-0.043,"y":0.082},{"p":55,"l":-18,"x":-0.031,"y":0.092},{"p":55,"l":-18,"x":-0.012,"y":0.098},{"p":55,"l":-18,"x":-0.002,"y":0.113},{"p":55,"l":-18,"x":0.005,"y":0.118},{"p":55,"l":-18,"x":0.013,"y":0.11},{"p":55,"l":-18,"x":0.021,"y":0.095},{"p":55,"l":-18,"x":0.029,"y":0.085},{"p":55,"l":-18,"x":0.049,"y":0.079},{"p":55,"l":-18,"x":0.052,"y":0.07},{"p":55,"l":-18,"x":0.041,"y":0.065},{"p":55,"l":-18,"x":0.024,"y":0.061},{"p":55,"l":-18,"x":0.019,"y":0.054},{"p":55,"l":-18,"x":0.019,"y":0.046},{"p":55,"l":-18,"x":0.013,"y":0.035},{"p":55,"l":-18,"x":0.019,"y":0.029},{"p":55,"l":-18,"x":0.036,"y":0.025},{"p":55,"l":-18,"x":0.036,"y":0.017},{"p":55,"l":-18,"x":0.021,"y":0.015},{"p":55,"l":-18,"x":-0.021,"y":0.015},
{"p":56,"l":-18,"x":-0.116,"y":0.001},{"p":56,"l":-18,"x":-0.103,"y":-0.006},{"p":56,"l":-18,"x":-0.091,"y":-0.016},{"p":56,"l":-18,"x":-0.085,"y":-0.031},{"p":56,"l":-18,"x":-0.074,"y":-0.039},{"p":56,"l":-18,"x":-0.062,"y":-0.034},{"p":56,"l":-18,"x":-0.059,"y":-0.018},{"p":56,"l":-18,"x":-0.059,"y":-0.006},{"p":56,"l":-18,"x":-0.059,"y":0.008},{"p":56,"l":-18,"x":-0.062,"y":0.02},{"p":56,"l":-18,"x":-0.064,"y":0.035},{"p":56,"l":-18,"x":-0.074,"y":0.041},{"p":56,"l":-18,"x":-0.083,"y":0.031},{"p":56,"l":-18,"x":-0.09,"y":0.017},{"p":56,"l":-18,"x":-0.103,"y":0.008},
{"p":57,"l":-18,"x":0.116,"y":-0.001},{"p":57,"l":-18,"x":0.104,"y":-0.014},{"p":57,"l":-18,"x":0.093,"y":-0.027},{"p":57,"l":-18,"x":0.09,"y":-0.037},{"p":57,"l":-18,"x":0.076,"y":-0.039},{"p":57,"l":-18,"x":0.065,"y":-0.034},{"p":57,"l":-18,"x":0.064,"y":-0.014},{"p":57,"l":-18,"x":0.062,"y":0},{"p":57,"l":-18,"x":0.066,"y":0.015},{"p":57,"l":-18,"x":0.065,"y":0.031},{"p":57,"l":-18,"x":0.075,"y":0.036},{"p":57,"l":-18,"x":0.088,"y":0.028},{"p":57,"l":-18,"x":0.096,"y":0.015},{"p":57,"l":-18,"x":0.106,"y":0.007},
{"p":58,"l":-18,"x":0.037,"y":0},{"p":58,"l":-18,"x":0.048,"y":-0.008},{"p":58,"l":-18,"x":0.058,"y":0},{"p":58,"l":-18,"x":0.048,"y":0.008},
{"p":59,"l":-16,"x":0.001,"y":-0.124},{"p":59,"l":-16,"x":0.008,"y":-0.119},{"p":59,"l":-16,"x":0.014,"y":-0.099},{"p":59,"l":-16,"x":0.031,"y":-0.088},{"p":59,"l":-16,"x":0.049,"y":-0.076},{"p":59,"l":-16,"x":0.044,"y":-0.068},{"p":59,"l":-16,"x":0.021,"y":-0.065},{"p":59,"l":-16,"x":0.005,"y":-0.06},{"p":59,"l":-16,"x":-0.012,"y":-0.062},{"p":59,"l":-16,"x":-0.034,"y":-0.068},{"p":59,"l":-16,"x":-0.044,"y":-0.075},{"p":59,"l":-16,"x":-0.031,"y":-0.086},{"p":59,"l":-16,"x":-0.017,"y":-0.099},{"p":59,"l":-16,"x":-0.008,"y":-0.117},
{"p":60,"l":-16,"x":-0.034,"y":-0.049},{"p":60,"l":-16,"x":0.001,"y":-0.049},{"p":60,"l":-16,"x":0.034,"y":-0.049},{"p":60,"l":-16,"x":0.027,"y":-0.045},{"p":60,"l":-16,"x":0.011,"y":-0.044},{"p":60,"l":-16,"x":0.01,"y":-0.034},{"p":60,"l":-16,"x":0.021,"y":-0.027},{"p":60,"l":-16,"x":0.037,"y":-0.022},{"p":60,"l":-16,"x":0.034,"y":-0.017},{"p":60,"l":-16,"x":0.001,"y":-0.017},{"p":60,"l":-16,"x":-0.028,"y":-0.017},{"p":60,"l":-16,"x":-0.033,"y":-0.022},{"p":60,"l":-16,"x":-0.018,"y":-0.027},{"p":60,"l":-16,"x":-0.012,"y":-0.037},{"p":60,"l":-16,"x":-0.012,"y":-0.042},{"p":60,"l":-16,"x":-0.028,"y":-0.045},
{"p":61,"l":-16,"x":-0.038,"y":-0.005},{"p":61,"l":-16,"x":-0.021,"y":-0.011},{"p":61,"l":-16,"x":0.021,"y":-0.009},{"p":61,"l":-16,"x":0.024,"y":-0.001},{"p":61,"l":-16,"x":0.021,"y":0.009},{"p":61,"l":-16,"x":-0.021,"y":0.01},{"p":61,"l":-16,"x":-0.038,"y":0.005},
{"p":62,"l":-16,"x":-0.036,"y":0.02},{"p":62,"l":-16,"x":-0.028,"y":0.027},{"p":62,"l":-16,"x":-0.013,"y":0.031},{"p":62,"l":-16,"x":-0.01,"y":0.036},{"p":62,"l":-16,"x":-0.021,"y":0.046},{"p":62,"l":-16,"x":-0.021,"y":0.051},{"p":62,"l":-16,"x":-0.008,"y":0.052},{"p":62,"l":-16,"x":-0.003,"y":0.057},{"p":62,"l":-16,"x":-0.015,"y":0.062},{"p":62,"l":-16,"x":-0.038,"y":0.067},{"p":62,"l":-16,"x":-0.043,"y":0.075},{"p":62,"l":-16,"x":-0.029,"y":0.087},{"p":62,"l":-16,"x":-0.016,"y":0.093},{"p":62,"l":-16,"x":-0.007,"y":0.11},{"p":62,"l":-16,"x":0.005,"y":0.113},{"p":62,"l":-16,"x":0.011,"y":0.106},{"p":62,"l":-16,"x":0.018,"y":0.092},{"p":62,"l":-16,"x":0.024,"y":0.082},{"p":62,"l":-16,"x":0.045,"y":0.075},{"p":62,"l":-16,"x":0.044,"y":0.07},{"p":62,"l":-16,"x":0.024,"y":0.066},{"p":62,"l":-16,"x":0.014,"y":0.059},{"p":62,"l":-16,"x":0.014,"y":0.046},{"p":62,"l":-16,"x":0.01,"y":0.035},{"p":62,"l":-16,"x":0.021,"y":0.027},{"p":62,"l":-16,"x":0.034,"y":0.022},{"p":62,"l":-16,"x":0.027,"y":0.017},{"p":62,"l":-16,"x":0.001,"y":0.017},{"p":62,"l":-16,"x":-0.025,"y":0.017},
{"p":63,"l":-16,"x":-0.083,"y":-0.018},{"p":63,"l":-16,"x":-0.078,"y":-0.027},{"p":63,"l":-16,"x":-0.07,"y":-0.032},{"p":63,"l":-16,"x":-0.064,"y":-0.027},{"p":63,"l":-16,"x":-0.065,"y":-0.018},{"p":63,"l":-16,"x":-0.075,"y":-0.011},
{"p":64,"l":-16,"x":-0.078,"y":0.001},{"p":64,"l":-16,"x":-0.072,"y":-0.006},{"p":64,"l":-16,"x":-0.059,"y":-0.005},{"p":64,"l":-16,"x":-0.059,"y":0.007},{"p":64,"l":-16,"x":-0.07,"y":0.007},
{"p":65,"l":-16,"x":-0.082,"y":0.017},{"p":65,"l":-16,"x":-0.074,"y":0.017},{"p":65,"l":-16,"x":-0.066,"y":0.028},{"p":65,"l":-16,"x":-0.07,"y":0.035},{"p":65,"l":-16,"x":-0.077,"y":0.03},
{"p":66,"l":-16,"x":0.067,"y":-0.029},{"p":66,"l":-16,"x":0.075,"y":-0.036},{"p":66,"l":-16,"x":0.086,"y":-0.031},{"p":66,"l":-16,"x":0.091,"y":-0.018},{"p":66,"l":-16,"x":0.083,"y":-0.013},{"p":66,"l":-16,"x":0.072,"y":-0.016},
{"p":67,"l":-16,"x":0.07,"y":0.026},{"p":67,"l":-16,"x":0.078,"y":0.015},{"p":67,"l":-16,"x":0.09,"y":0.01},{"p":67,"l":-16,"x":0.093,"y":0.017},{"p":67,"l":-16,"x":0.085,"y":0.031},{"p":67,"l":-16,"x":0.075,"y":0.035},
{"p":68,"l":-16,"x":0.068,"y":0},{"p":68,"l":-16,"x":0.075,"y":-0.005},{"p":68,"l":-16,"x":0.081,"y":-0.001},{"p":68,"l":-16,"x":0.076,"y":0.004},
{"p":69,"l":-16,"x":0.104,"y":0},{"p":69,"l":-16,"x":0.108,"y":-0.004},{"p":69,"l":-16,"x":0.114,"y":-0.001},{"p":69,"l":-16,"x":0.108,"y":0.003},
{"p":70,"l":-16,"x":0.041,"y":0},{"p":70,"l":-16,"x":0.048,"y":-0.005},{"p":70,"l":-16,"x":0.055,"y":0},{"p":70,"l":-16,"x":0.048,"y":0.004},
{"p":71,"l":-14,"x":0.001,"y":-0.119},{"p":71,"l":-14,"x":0.01,"y":-0.112},{"p":71,"l":-14,"x":0.016,"y":-0.093},{"p":71,"l":-14,"x":0.034,"y":-0.081},{"p":71,"l":-14,"x":0.037,"y":-0.075},{"p":71,"l":-14,"x":0.021,"y":-0.069},{"p":71,"l":-14,"x":0.006,"y":-0.062},{"p":71,"l":-14,"x":-0.012,"y":-0.065},{"p":71,"l":-14,"x":-0.034,"y":-0.073},{"p":71,"l":-14,"x":-0.038,"y":-0.078},{"p":71,"l":-14,"x":-0.021,"y":-0.088},{"p":71,"l":-14,"x":-0.012,"y":-0.102},{"p":71,"l":-14,"x":-0.007,"y":-0.114},
{"p":72,"l":-14,"x":-0.021,"y":-0.046},{"p":72,"l":-14,"x":0.001,"y":-0.047},{"p":72,"l":-14,"x":0.021,"y":-0.047},{"p":72,"l":-14,"x":0.009,"y":-0.043},{"p":72,"l":-14,"x":0.008,"y":-0.032},{"p":72,"l":-14,"x":0.016,"y":-0.024},{"p":72,"l":-14,"x":0.014,"y":-0.02},{"p":72,"l":-14,"x":-0.012,"y":-0.02},{"p":72,"l":-14,"x":-0.023,"y":-0.021},{"p":72,"l":-14,"x":-0.012,"y":-0.027},{"p":72,"l":-14,"x":-0.01,"y":-0.04},
{"p":73,"l":-14,"x":-0.038,"y":-0.001},{"p":73,"l":-14,"x":-0.021,"y":-0.008},{"p":73,"l":-14,"x":-0.02,"y":0.007},{"p":73,"l":-14,"x":-0.036,"y":0.005},
{"p":74,"l":-14,"x":-0.028,"y":0.021},{"p":74,"l":-14,"x":-0.013,"y":0.028},{"p":74,"l":-14,"x":-0.004,"y":0.035},{"p":74,"l":-14,"x":-0.013,"y":0.048},{"p":74,"l":-14,"x":0.001,"y":0.051},{"p":74,"l":-14,"x":0.01,"y":0.049},{"p":74,"l":-14,"x":0.01,"y":0.038},{"p":74,"l":-14,"x":0.008,"y":0.031},{"p":74,"l":-14,"x":0.018,"y":0.025},{"p":74,"l":-14,"x":0.029,"y":0.02},{"p":74,"l":-14,"x":0.014,"y":0.018},{"p":74,"l":-14,"x":-0.018,"y":0.018},
{"p":75,"l":-14,"x":0.001,"y":0.059},{"p":75,"l":-14,"x":-0.01,"y":0.066},{"p":75,"l":-14,"x":-0.034,"y":0.07},{"p":75,"l":-14,"x":-0.036,"y":0.075},{"p":75,"l":-14,"x":-0.02,"y":0.087},{"p":75,"l":-14,"x":-0.007,"y":0.098},{"p":75,"l":-14,"x":0.003,"y":0.113},{"p":75,"l":-14,"x":0.01,"y":0.102},{"p":75,"l":-14,"x":0.014,"y":0.087},{"p":75,"l":-14,"x":0.021,"y":0.079},{"p":75,"l":-14,"x":0.036,"y":0.074},{"p":75,"l":-14,"x":0.036,"y":0.07},{"p":75,"l":-14,"x":0.021,"y":0.069},{"p":75,"l":-14,"x":0.013,"y":0.062},
{"p":76,"l":-14,"x":-0.077,"y":-0.021},{"p":76,"l":-14,"x":-0.073,"y":-0.027},{"p":76,"l":-14,"x":-0.068,"y":-0.026},{"p":76,"l":-14,"x":-0.07,"y":-0.02},
{"p":77,"l":-14,"x":-0.07,"y":0.001},{"p":77,"l":-14,"x":-0.065,"y":-0.002},{"p":77,"l":-14,"x":-0.062,"y":0.001},{"p":77,"l":-14,"x":-0.065,"y":0.004},
{"p":78,"l":-14,"x":0.07,"y":-0.029},{"p":78,"l":-14,"x":0.076,"y":-0.033},{"p":78,"l":-14,"x":0.085,"y":-0.026},{"p":78,"l":-14,"x":0.086,"y":-0.019},{"p":78,"l":-14,"x":0.078,"y":-0.017},
{"p":79,"l":-14,"x":0.073,"y":0.028},{"p":79,"l":-14,"x":0.08,"y":0.02},{"p":79,"l":-14,"x":0.085,"y":0.018},{"p":79,"l":-14,"x":0.083,"y":0.026},{"p":79,"l":-14,"x":0.076,"y":0.033},
{"p":80,"l":-12,"x":0.001,"y":-0.113},{"p":80,"l":-12,"x":0.009,"y":-0.107},{"p":80,"l":-12,"x":0.014,"y":-0.088},{"p":80,"l":-12,"x":0.019,"y":-0.078},{"p":80,"l":-12,"x":0.01,"y":-0.071},{"p":80,"l":-12,"x":0.003,"y":-0.063},{"p":80,"l":-12,"x":-0.007,"y":-0.065},{"p":80,"l":-12,"x":-0.015,"y":-0.071},{"p":80,"l":-12,"x":-0.03,"y":-0.073},{"p":80,"l":-12,"x":-0.033,"y":-0.077},{"p":80,"l":-12,"x":-0.018,"y":-0.088},{"p":80,"l":-12,"x":-0.01,"y":-0.101},{"p":80,"l":-12,"x":-0.005,"y":-0.109},
{"p":81,"l":-12,"x":-0.01,"y":-0.044},{"p":81,"l":-12,"x":0.01,"y":-0.045},{"p":81,"l":-12,"x":0.007,"y":-0.037},{"p":81,"l":-12,"x":0.006,"y":-0.029},{"p":81,"l":-12,"x":0.014,"y":-0.022},{"p":81,"l":-12,"x":0.001,"y":-0.02},{"p":81,"l":-12,"x":-0.021,"y":-0.02},{"p":81,"l":-12,"x":-0.007,"y":-0.029},{"p":81,"l":-12,"x":-0.007,"y":-0.039},
{"p":82,"l":-12,"x":-0.023,"y":0.02},{"p":82,"l":-12,"x":-0.007,"y":0.019},{"p":82,"l":-12,"x":0.019,"y":0.02},{"p":82,"l":-12,"x":0.008,"y":0.028},{"p":82,"l":-12,"x":0.001,"y":0.031},{"p":82,"l":-12,"x":-0.01,"y":0.027},
{"p":83,"l":-12,"x":-0.01,"y":0.043},{"p":83,"l":-12,"x":0,"y":0.035},{"p":83,"l":-12,"x":0.01,"y":0.042},{"p":83,"l":-12,"x":0.006,"y":0.047},{"p":83,"l":-12,"x":-0.007,"y":0.047},
{"p":84,"l":-12,"x":0.001,"y":0.062},{"p":84,"l":-12,"x":-0.008,"y":0.069},{"p":84,"l":-12,"x":-0.031,"y":0.071},{"p":84,"l":-12,"x":-0.033,"y":0.074},{"p":84,"l":-12,"x":-0.016,"y":0.085},{"p":84,"l":-12,"x":-0.005,"y":0.095},{"p":84,"l":-12,"x":0.003,"y":0.11},{"p":84,"l":-12,"x":0.008,"y":0.096},{"p":84,"l":-12,"x":0.013,"y":0.083},{"p":84,"l":-12,"x":0.013,"y":0.074},{"p":84,"l":-12,"x":0.008,"y":0.066},
{"p":85,"l":-10,"x":0.001,"y":-0.102},{"p":85,"l":-10,"x":0.007,"y":-0.097},{"p":85,"l":-10,"x":0.007,"y":-0.084},{"p":85,"l":-10,"x":0.004,"y":-0.076},{"p":85,"l":-10,"x":-0.013,"y":-0.076},{"p":85,"l":-10,"x":-0.028,"y":-0.074},{"p":85,"l":-10,"x":-0.025,"y":-0.08},{"p":85,"l":-10,"x":-0.01,"y":-0.089},{"p":85,"l":-10,"x":-0.003,"y":-0.099},
{"p":86,"l":-10,"x":-0.002,"y":-0.042},{"p":86,"l":-10,"x":0.003,"y":-0.042},{"p":86,"l":-10,"x":0.003,"y":-0.038},{"p":86,"l":-10,"x":-0.002,"y":-0.038},
{"p":87,"l":-10,"x":-0.005,"y":-0.026},{"p":87,"l":-10,"x":0,"y":-0.028},{"p":87,"l":-10,"x":0.005,"y":-0.025},{"p":87,"l":-10,"x":0,"y":-0.022},
{"p":88,"l":-10,"x":-0.026,"y":0.074},{"p":88,"l":-10,"x":-0.02,"y":0.074},{"p":88,"l":-10,"x":-0.007,"y":0.079},{"p":88,"l":-10,"x":0.006,"y":0.087},{"p":88,"l":-10,"x":0.006,"y":0.095},{"p":88,"l":-10,"x":0.001,"y":0.1},{"p":88,"l":-10,"x":-0.01,"y":0.088},{"p":88,"l":-10,"x":-0.021,"y":0.082},
{"p":89,"l":-14,"x":-0.021,"y":0},{"p":89,"l":-14,"x":-0.015,"y":-0.008},{"p":89,"l":-14,"x":0,"y":-0.012},{"p":89,"l":-14,"x":0.015,"y":-0.008},{"p":89,"l":-14,"x":0.021,"y":0},{"p":89,"l":-14,"x":0.015,"y":0.008},{"p":89,"l":-14,"x":0,"y":0.011},{"p":89,"l":-14,"x":-0.015,"y":0.008},
{"p":90,"l":-12,"x":-0.02,"y":0},{"p":90,"l":-12,"x":-0.014,"y":-0.008},{"p":90,"l":-12,"x":0,"y":-0.011},{"p":90,"l":-12,"x":0.014,"y":-0.008},{"p":90,"l":-12,"x":0.02,"y":0},{"p":90,"l":-12,"x":0.014,"y":0.007},{"p":90,"l":-12,"x":0,"y":0.01},{"p":90,"l":-12,"x":-0.014,"y":0.007},
{"p":91,"l":-10,"x":-0.019,"y":0},{"p":91,"l":-10,"x":-0.013,"y":-0.007},{"p":91,"l":-10,"x":0,"y":-0.01},{"p":91,"l":-10,"x":0.013,"y":-0.007},{"p":91,"l":-10,"x":0.019,"y":0},{"p":91,"l":-10,"x":0.013,"y":0.007},{"p":91,"l":-10,"x":0,"y":0.0095},{"p":91,"l":-10,"x":-0.013,"y":0.007},
{"p":92,"l":-8,"x":-0.0175,"y":0},{"p":92,"l":-8,"x":-0.012,"y":-0.006},{"p":92,"l":-8,"x":0,"y":-0.009},{"p":92,"l":-8,"x":0.012,"y":-0.006},{"p":92,"l":-8,"x":0.0175,"y":0},{"p":92,"l":-8,"x":0.012,"y":0.006},{"p":92,"l":-8,"x":0,"y":0.009},{"p":92,"l":-8,"x":-0.012,"y":0.006},
{"p":93,"l":-6,"x":-0.016,"y":0},{"p":93,"l":-6,"x":-0.011,"y":-0.006},{"p":93,"l":-6,"x":0,"y":-0.008},{"p":93,"l":-6,"x":0.011,"y":-0.006},{"p":93,"l":-6,"x":0.016,"y":0},{"p":93,"l":-6,"x":0.011,"y":0.005},{"p":93,"l":-6,"x":0,"y":0.0075},{"p":93,"l":-6,"x":-0.011,"y":0.005},
{"p":94,"l":-4,"x":-0.014,"y":0},{"p":94,"l":-4,"x":-0.01,"y":-0.005},{"p":94,"l":-4,"x":0,"y":-0.007},{"p":94,"l":-4,"x":0.01,"y":-0.005},{"p":94,"l":-4,"x":0.014,"y":0},{"p":94,"l":-4,"x":0.01,"y":0.005},{"p":94,"l":-4,"x":0,"y":0.0065},{"p":94,"l":-4,"x":-0.01,"y":0.005},
{"p":95,"l":-2,"x":-0.011,"y":0},{"p":95,"l":-2,"x":-0.008,"y":-0.004},{"p":95,"l":-2,"x":0,"y":-0.006},{"p":95,"l":-2,"x":0.008,"y":-0.004},{"p":95,"l":-2,"x":0.011,"y":0},{"p":95,"l":-2,"x":0.008,"y":0.004},{"p":95,"l":-2,"x":0,"y":0.0055},{"p":95,"l":-2,"x":-0.008,"y":0.004},
{"p":96,"l":0,"x":-0.0075,"y":0},{"p":96,"l":0,"x":-0.005,"y":-0.003},{"p":96,"l":0,"x":0,"y":-0.0045},{"p":96,"l":0,"x":0.005,"y":-0.003},{"p":96,"l":0,"x":0.0075,"y":0},{"p":96,"l":0,"x":0.005,"y":0.003},{"p":96,"l":0,"x":0,"y":0.005},{"p":96,"l":0,"x":-0.005,"y":0.003},
{"p":97,"l":-26,"x":-0.09,"y":-0.078},{"p":97,"l":-26,"x":-0.07,"y":-0.086},{"p":97,"l":-26,"x":-0.048,"y":-0.095},{"p":97,"l":-26,"x":-0.043,"y":-0.089},{"p":97,"l":-26,"x":-0.049,"y":-0.08},{"p":97,"l":-26,"x":-0.07,"y":-0.077},{"p":97,"l":-26,"x":-0.08,"y":-0.07},{"p":97,"l":-26,"x":-0.088,"y":-0.071},
{"p":98,"l":-24,"x":-0.057,"y":-0.065},{"p":98,"l":-24,"x":-0.047,"y":-0.068},{"p":98,"l":-24,"x":-0.039,"y":-0.063},{"p":98,"l":-24,"x":-0.018,"y":-0.062},{"p":98,"l":-24,"x":-0.018,"y":-0.055},{"p":98,"l":-24,"x":-0.041,"y":-0.054},{"p":98,"l":-24,"x":-0.054,"y":-0.054},
{"p":99,"l":-28,"x":-0.054,"y":-0.063},{"p":99,"l":-28,"x":-0.047,"y":-0.066},{"p":99,"l":-28,"x":-0.04,"y":-0.06},{"p":99,"l":-28,"x":-0.02,"y":-0.06},{"p":99,"l":-28,"x":-0.021,"y":-0.057},{"p":99,"l":-28,"x":-0.041,"y":-0.056},{"p":99,"l":-28,"x":-0.051,"y":-0.057},
{"p":100,"l":-26,"x":-0.054,"y":-0.042},{"p":100,"l":-26,"x":-0.045,"y":-0.041},{"p":100,"l":-26,"x":-0.042,"y":-0.026},{"p":100,"l":-26,"x":-0.047,"y":-0.02},{"p":100,"l":-26,"x":-0.048,"y":-0.008},{"p":100,"l":-26,"x":-0.057,"y":-0.008},{"p":100,"l":-26,"x":-0.06,"y":-0.015},{"p":100,"l":-26,"x":-0.052,"y":-0.023},{"p":100,"l":-26,"x":-0.055,"y":-0.034},
{"p":101,"l":-26,"x":-0.027,"y":-0.011},{"p":101,"l":-26,"x":-0.022,"y":-0.014},{"p":101,"l":-26,"x":-0.017,"y":-0.011},{"p":101,"l":-26,"x":-0.022,"y":-0.008},
{"p":102,"l":-26,"x":0.021,"y":-0.104},{"p":102,"l":-26,"x":0.026,"y":-0.107},{"p":102,"l":-26,"x":0.032,"y":-0.099},{"p":102,"l":-26,"x":0.044,"y":-0.099},{"p":102,"l":-26,"x":0.047,"y":-0.104},{"p":102,"l":-26,"x":0.052,"y":-0.099},{"p":102,"l":-26,"x":0.049,"y":-0.091},{"p":102,"l":-26,"x":0.034,"y":-0.089},{"p":102,"l":-26,"x":0.023,"y":-0.094},
{"p":103,"l":-24,"x":0.02,"y":-0.062},{"p":103,"l":-24,"x":0.036,"y":-0.067},{"p":103,"l":-24,"x":0.055,"y":-0.07},{"p":103,"l":-24,"x":0.058,"y":-0.062},{"p":103,"l":-24,"x":0.052,"y":-0.055},{"p":103,"l":-24,"x":0.026,"y":-0.054},
{"p":104,"l":-28,"x":0.024,"y":-0.06},{"p":104,"l":-28,"x":0.039,"y":-0.062},{"p":104,"l":-28,"x":0.052,"y":-0.067},{"p":104,"l":-28,"x":0.055,"y":-0.062},{"p":104,"l":-28,"x":0.049,"y":-0.059},{"p":104,"l":-28,"x":0.029,"y":-0.057},
{"p":105,"l":-26,"x":0.065,"y":-0.086},{"p":105,"l":-26,"x":0.075,"y":-0.089},{"p":105,"l":-26,"x":0.093,"y":-0.078},{"p":105,"l":-26,"x":0.091,"y":-0.072},{"p":105,"l":-26,"x":0.083,"y":-0.072},{"p":105,"l":-26,"x":0.067,"y":-0.08},
{"p":106,"l":-26,"x":0.018,"y":-0.034},{"p":106,"l":-26,"x":0.028,"y":-0.042},{"p":106,"l":-26,"x":0.039,"y":-0.041},{"p":106,"l":-26,"x":0.042,"y":-0.036},{"p":106,"l":-26,"x":0.032,"y":-0.031},{"p":106,"l":-26,"x":0.023,"y":-0.03},
{"p":107,"l":-26,"x":0.054,"y":-0.044},{"p":107,"l":-26,"x":0.062,"y":-0.044},{"p":107,"l":-26,"x":0.065,"y":-0.018},{"p":107,"l":-26,"x":0.058,"y":-0.01},{"p":107,"l":-26,"x":0.052,"y":-0.015},{"p":107,"l":-26,"x":0.058,"y":-0.028},
{"p":108,"l":-26,"x":0.024,"y":-0.008},{"p":108,"l":-26,"x":0.034,"y":-0.011},{"p":108,"l":-26,"x":0.038,"y":-0.001},{"p":108,"l":-26,"x":0.036,"y":0.008},{"p":108,"l":-26,"x":0.028,"y":0.009},{"p":108,"l":-26,"x":0.024,"y":0.002},
{"p":109,"l":-26,"x":-0.054,"y":0.002},{"p":109,"l":-26,"x":-0.047,"y":0.002},{"p":109,"l":-26,"x":-0.045,"y":0.016},{"p":109,"l":-26,"x":-0.045,"y":0.029},{"p":109,"l":-26,"x":-0.052,"y":0.032},{"p":109,"l":-26,"x":-0.055,"y":0.023},{"p":109,"l":-26,"x":-0.062,"y":0.016},{"p":109,"l":-26,"x":-0.057,"y":0.01},
{"p":110,"l":-26,"x":-0.07,"y":0.049},{"p":110,"l":-26,"x":-0.047,"y":0.037},{"p":110,"l":-26,"x":-0.023,"y":0.032},{"p":110,"l":-26,"x":-0.02,"y":0.036},{"p":110,"l":-26,"x":-0.041,"y":0.041},{"p":110,"l":-26,"x":-0.057,"y":0.05},{"p":110,"l":-26,"x":-0.067,"y":0.052},
{"p":111,"l":-26,"x":-0.085,"y":0.076},{"p":111,"l":-26,"x":-0.081,"y":0.071},{"p":111,"l":-26,"x":-0.067,"y":0.076},{"p":111,"l":-26,"x":-0.049,"y":0.083},{"p":111,"l":-26,"x":-0.041,"y":0.088},{"p":111,"l":-26,"x":-0.046,"y":0.094},{"p":111,"l":-26,"x":-0.054,"y":0.089},{"p":111,"l":-26,"x":-0.07,"y":0.083},{"p":111,"l":-26,"x":-0.08,"y":0.081},
{"p":112,"l":-26,"x":-0.052,"y":0.062},{"p":112,"l":-26,"x":-0.046,"y":0.057},{"p":112,"l":-26,"x":-0.02,"y":0.057},{"p":112,"l":-26,"x":-0.021,"y":0.06},{"p":112,"l":-26,"x":-0.041,"y":0.062},{"p":112,"l":-26,"x":-0.046,"y":0.067},
{"p":113,"l":-24,"x":-0.031,"y":0.094},{"p":113,"l":-24,"x":-0.024,"y":0.093},{"p":113,"l":-24,"x":-0.016,"y":0.101},{"p":113,"l":-24,"x":-0.021,"y":0.104},{"p":113,"l":-24,"x":-0.028,"y":0.098},
{"p":114,"l":-24,"x":-0.025,"y":0.01},{"p":114,"l":-24,"x":-0.02,"y":0.008},{"p":114,"l":-24,"x":-0.016,"y":0.01},{"p":114,"l":-24,"x":-0.02,"y":0.012},
{"p":126,"l":-24,"x":-0.018,"y":-0.0155},{"p":126,"l":-24,"x":-0.008,"y":-0.016},{"p":126,"l":-24,"x":-0.008,"y":-0.013},{"p":126,"l":-24,"x":-0.018,"y":-0.013},
{"p":127,"l":-24,"x":0.006,"y":-0.016},{"p":127,"l":-24,"x":0.017,"y":-0.016},{"p":127,"l":-24,"x":0.017,"y":-0.013},{"p":127,"l":-24,"x":0.006,"y":-0.013},
{"p":128,"l":-24,"x":-0.013,"y":0.014},{"p":128,"l":-24,"x":-0.008,"y":0.011},{"p":128,"l":-24,"x":-0.003,"y":0.014},{"p":128,"l":-24,"x":-0.008,"y":0.017},
{"p":129,"l":-24,"x":0.008,"y":0.014},{"p":129,"l":-24,"x":0.012,"y":0.012},{"p":129,"l":-24,"x":0.015,"y":0.014},{"p":129,"l":-24,"x":0.012,"y":0.016},
{"p":115,"l":-26,"x":0.018,"y":0.034},{"p":115,"l":-26,"x":0.023,"y":0.029},{"p":115,"l":-26,"x":0.036,"y":0.03},{"p":115,"l":-26,"x":0.062,"y":0.039},{"p":115,"l":-26,"x":0.07,"y":0.047},{"p":115,"l":-26,"x":0.063,"y":0.049},{"p":115,"l":-26,"x":0.049,"y":0.041},{"p":115,"l":-26,"x":0.029,"y":0.041},{"p":115,"l":-26,"x":0.02,"y":0.039},
{"p":116,"l":-26,"x":0.052,"y":0.01},{"p":116,"l":-26,"x":0.063,"y":0.008},{"p":116,"l":-26,"x":0.068,"y":0.016},{"p":116,"l":-26,"x":0.065,"y":0.028},{"p":116,"l":-26,"x":0.059,"y":0.026},{"p":116,"l":-26,"x":0.058,"y":0.018},
{"p":117,"l":-24,"x":0.02,"y":0.058},{"p":117,"l":-24,"x":0.028,"y":0.055},{"p":117,"l":-24,"x":0.055,"y":0.058},{"p":117,"l":-24,"x":0.06,"y":0.067},{"p":117,"l":-24,"x":0.054,"y":0.068},{"p":117,"l":-24,"x":0.042,"y":0.062},{"p":117,"l":-24,"x":0.026,"y":0.062},
{"p":118,"l":-28,"x":0.026,"y":0.058},{"p":118,"l":-28,"x":0.042,"y":0.058},{"p":118,"l":-28,"x":0.054,"y":0.062},{"p":118,"l":-28,"x":0.055,"y":0.067},{"p":118,"l":-28,"x":0.049,"y":0.063},{"p":118,"l":-28,"x":0.036,"y":0.06},
{"p":119,"l":-26,"x":0.068,"y":0.076},{"p":119,"l":-26,"x":0.083,"y":0.067},{"p":119,"l":-26,"x":0.093,"y":0.07},{"p":119,"l":-26,"x":0.089,"y":0.08},{"p":119,"l":-26,"x":0.076,"y":0.084},
{"p":120,"l":-26,"x":0.021,"y":0.106},{"p":120,"l":-26,"x":0.029,"y":0.093},{"p":120,"l":-26,"x":0.044,"y":0.089},{"p":120,"l":-26,"x":0.052,"y":0.096},{"p":120,"l":-26,"x":0.055,"y":0.117},{"p":120,"l":-26,"x":0.051,"y":0.12},{"p":120,"l":-26,"x":0.044,"y":0.099},{"p":120,"l":-26,"x":0.032,"y":0.097},{"p":120,"l":-26,"x":0.026,"y":0.109},
{"p":121,"l":-26,"x":-0.014,"y":-0.16},{"p":121,"l":-26,"x":-0.009,"y":-0.172},{"p":121,"l":-26,"x":0.002,"y":-0.176},{"p":121,"l":-26,"x":0.012,"y":-0.172},{"p":121,"l":-26,"x":0.016,"y":-0.16},{"p":121,"l":-26,"x":0.011,"y":-0.149},{"p":121,"l":-26,"x":0.002,"y":-0.145},{"p":121,"l":-26,"x":-0.009,"y":-0.149},
{"p":122,"l":-30,"x":-0.01,"y":-0.16},{"p":122,"l":-30,"x":-0.007,"y":-0.168},{"p":122,"l":-30,"x":0.002,"y":-0.172},{"p":122,"l":-30,"x":0.01,"y":-0.168},{"p":122,"l":-30,"x":0.012,"y":-0.16},{"p":122,"l":-30,"x":0.009,"y":-0.152},{"p":122,"l":-30,"x":0.002,"y":-0.148},{"p":122,"l":-30,"x":-0.007,"y":-0.152},
{"p":123,"l":-26,"x":-0.012,"y":0.157},{"p":123,"l":-26,"x":-0.007,"y":0.147},{"p":123,"l":-26,"x":0.004,"y":0.143},{"p":123,"l":-26,"x":0.015,"y":0.147},{"p":123,"l":-26,"x":0.019,"y":0.157},{"p":123,"l":-26,"x":0.015,"y":0.167},{"p":123,"l":-26,"x":0.004,"y":0.172},{"p":123,"l":-26,"x":-0.007,"y":0.167},
{"p":124,"l":-30,"x":-0.008,"y":0.157},{"p":124,"l":-30,"x":-0.005,"y":0.15},{"p":124,"l":-30,"x":0.004,"y":0.147},{"p":124,"l":-30,"x":0.012,"y":0.15},{"p":124,"l":-30,"x":0.015,"y":0.157},{"p":124,"l":-30,"x":0.012,"y":0.165},{"p":124,"l":-30,"x":0.004,"y":0.168},{"p":124,"l":-30,"x":-0.005,"y":0.165}
]},"layer":[{"mark":{"type":"line","interpolate":"catmull-rom-closed","stroke":"#000","strokeOpacity":0.55,"strokeWidth":0.6,"clip":true},"encoding":{"x":{"field":"x","type":"quantitative","scale":{"domain":[-0.2,0.2],"nice":false},"axis":{"values":[-0.2,-0.15,-0.1,-0.05,0,0.05,0.1,0.15,0.2],"labelExpr":"''+datum.value","title":"Position Y (m)","grid":false,"tickColor":"black","tickSize":4,"domainColor":"black","labelFont":"Liberation Serif","titleFont":"Liberation Serif","labelFontSize":21,"titleFontSize":22,"titleFontWeight":"normal","labelColor":"black","titleColor":"black","labelFlush":false,"labelOverlap":false,"labelPadding":3,"titlePadding":4}},"y":{"field":"y","type":"quantitative","scale":{"domain":[-0.2,0.2],"reverse":true,"nice":false},"axis":{"values":[-0.2,-0.15,-0.1,-0.05,0,0.05,0.1,0.15,0.2],"labelExpr":"''+datum.value","title":"Position X (m)","grid":false,"tickColor":"black","tickSize":4,"domainColor":"black","labelFont":"Liberation Serif","titleFont":"Liberation Serif","labelFontSize":21,"titleFontSize":22,"titleFontWeight":"normal","labelColor":"black","titleColor":"black","labelOverlap":false,"labelPadding":3,"titlePadding":6}},"fill":{"field":"l","type":"ordinal","legend":null,"scale":{"domain":[-30,-28,-26,-24,-22,-20,-18,-16,-14,-12,-10,-8,-6,-4,-2,0],"range":["#9966FF","#6633FF","#3333FF","#0000FF","#0055AA","#00AA55","#00FF00","#55FF00","#AAFF00","#FFFF00","#FFCC00","#FF9900","#FF6600","#FF4400","#FF2200","#FF0000"]}},"detail":{"field":"p"},"order":{"value":null}}},{"data":{"values":[
{"p":1,"x":-0.085,"y":-0.076},{"p":1,"x":-0.079,"y":-0.081},{"p":1,"x":-0.071,"y":-0.081},{"p":1,"x":-0.075,"y":-0.076},{"p":1,"x":-0.081,"y":-0.073},
{"p":2,"x":-0.068,"y":-0.082},{"p":2,"x":-0.062,"y":-0.085},{"p":2,"x":-0.062,"y":-0.082},{"p":2,"x":-0.067,"y":-0.081},
{"p":3,"x":-0.055,"y":-0.086},{"p":3,"x":-0.049,"y":-0.091},{"p":3,"x":-0.047,"y":-0.089},{"p":3,"x":-0.05,"y":-0.084},{"p":3,"x":-0.055,"y":-0.083},
{"p":4,"x":-0.05,"y":-0.037},{"p":4,"x":-0.047,"y":-0.036},{"p":4,"x":-0.045,"y":-0.026},{"p":4,"x":-0.049,"y":-0.024},{"p":4,"x":-0.052,"y":-0.031},
{"p":5,"x":-0.058,"y":-0.015},{"p":5,"x":-0.054,"y":-0.016},{"p":5,"x":-0.05,"y":-0.01},{"p":5,"x":-0.054,"y":-0.008},
{"p":6,"x":-0.023,"y":-0.011},{"p":6,"x":-0.022,"y":-0.012},{"p":6,"x":-0.02,"y":-0.011},{"p":6,"x":-0.022,"y":-0.009},
{"p":7,"x":0.023,"y":-0.104},{"p":7,"x":0.026,"y":-0.105},{"p":7,"x":0.03,"y":-0.098},{"p":7,"x":0.028,"y":-0.096},{"p":7,"x":0.024,"y":-0.099},
{"p":8,"x":0.033,"y":-0.096},{"p":8,"x":0.044,"y":-0.097},{"p":8,"x":0.048,"y":-0.101},{"p":8,"x":0.05,"y":-0.098},{"p":8,"x":0.045,"y":-0.092},{"p":8,"x":0.036,"y":-0.091},
{"p":9,"x":0.049,"y":-0.064},{"p":9,"x":0.052,"y":-0.065},{"p":9,"x":0.054,"y":-0.062},{"p":9,"x":0.05,"y":-0.06},
{"p":10,"x":0.071,"y":-0.085},{"p":10,"x":0.075,"y":-0.086},{"p":10,"x":0.09,"y":-0.077},{"p":10,"x":0.088,"y":-0.074},{"p":10,"x":0.081,"y":-0.075},
{"p":11,"x":0.024,"y":-0.036},{"p":11,"x":0.031,"y":-0.04},{"p":11,"x":0.038,"y":-0.039},{"p":11,"x":0.038,"y":-0.035},{"p":11,"x":0.029,"y":-0.034},
{"p":12,"x":0.058,"y":-0.029},{"p":12,"x":0.062,"y":-0.029},{"p":12,"x":0.061,"y":-0.021},{"p":12,"x":0.063,"y":-0.017},{"p":12,"x":0.058,"y":-0.011},{"p":12,"x":0.056,"y":-0.015},{"p":12,"x":0.059,"y":-0.021},
{"p":13,"x":0.029,"y":-0.007},{"p":13,"x":0.032,"y":-0.008},{"p":13,"x":0.035,"y":0},{"p":13,"x":0.032,"y":0.006},{"p":13,"x":0.029,"y":0.005},{"p":13,"x":0.028,"y":0},
{"p":14,"x":-0.052,"y":0.008},{"p":14,"x":-0.049,"y":0.005},{"p":14,"x":-0.049,"y":0.011},{"p":14,"x":-0.052,"y":0.012},
{"p":15,"x":-0.06,"y":0.015},{"p":15,"x":-0.054,"y":0.012},{"p":15,"x":-0.053,"y":0.016},{"p":15,"x":-0.057,"y":0.018},
{"p":16,"x":-0.052,"y":0.025},{"p":16,"x":-0.048,"y":0.023},{"p":16,"x":-0.047,"y":0.029},{"p":16,"x":-0.051,"y":0.029},
{"p":17,"x":-0.068,"y":0.049},{"p":17,"x":-0.062,"y":0.045},{"p":17,"x":-0.056,"y":0.046},{"p":17,"x":-0.06,"y":0.05},
{"p":18,"x":-0.055,"y":0.043},{"p":18,"x":-0.05,"y":0.041},{"p":18,"x":-0.05,"y":0.043},
{"p":19,"x":-0.047,"y":0.038},{"p":19,"x":-0.042,"y":0.037},{"p":19,"x":-0.042,"y":0.039},
{"p":20,"x":-0.082,"y":0.075},{"p":20,"x":-0.079,"y":0.072},{"p":20,"x":-0.066,"y":0.078},{"p":20,"x":-0.072,"y":0.081},{"p":20,"x":-0.078,"y":0.08},
{"p":21,"x":-0.051,"y":0.086},{"p":21,"x":-0.047,"y":0.084},{"p":21,"x":-0.042,"y":0.088},{"p":21,"x":-0.047,"y":0.093},
{"p":22,"x":-0.049,"y":0.062},{"p":22,"x":-0.046,"y":0.059},{"p":22,"x":-0.043,"y":0.062},{"p":22,"x":-0.046,"y":0.064},
{"p":23,"x":0.032,"y":0.032},{"p":23,"x":0.044,"y":0.034},{"p":23,"x":0.054,"y":0.041},{"p":23,"x":0.047,"y":0.04},{"p":23,"x":0.036,"y":0.038},
{"p":24,"x":0.055,"y":0.041},{"p":24,"x":0.062,"y":0.042},{"p":24,"x":0.063,"y":0.045},{"p":24,"x":0.058,"y":0.045},
{"p":25,"x":0.065,"y":0.045},{"p":25,"x":0.072,"y":0.046},{"p":25,"x":0.072,"y":0.049},{"p":25,"x":0.067,"y":0.048},
{"p":26,"x":0.062,"y":0.013},{"p":26,"x":0.066,"y":0.015},{"p":26,"x":0.065,"y":0.023},{"p":26,"x":0.062,"y":0.023},
{"p":27,"x":0.049,"y":0.061},{"p":27,"x":0.054,"y":0.061},{"p":27,"x":0.054,"y":0.064},{"p":27,"x":0.05,"y":0.064},
{"p":28,"x":0.073,"y":0.078},{"p":28,"x":0.083,"y":0.072},{"p":28,"x":0.089,"y":0.073},{"p":28,"x":0.085,"y":0.076},{"p":28,"x":0.077,"y":0.081},
{"p":29,"x":0.022,"y":0.105},{"p":29,"x":0.025,"y":0.101},{"p":29,"x":0.026,"y":0.106},
{"p":30,"x":0.027,"y":0.097},{"p":30,"x":0.03,"y":0.093},{"p":30,"x":0.032,"y":0.095},
{"p":31,"x":0.036,"y":0.09},{"p":31,"x":0.044,"y":0.091},{"p":31,"x":0.05,"y":0.099},{"p":31,"x":0.054,"y":0.116},{"p":31,"x":0.05,"y":0.119},{"p":31,"x":0.047,"y":0.098},
{"p":32,"x":-0.006,"y":-0.16},{"p":32,"x":-0.003,"y":-0.165},{"p":32,"x":0.002,"y":-0.167},{"p":32,"x":0.007,"y":-0.165},{"p":32,"x":0.009,"y":-0.16},{"p":32,"x":0.007,"y":-0.155},{"p":32,"x":0.002,"y":-0.152},{"p":32,"x":-0.003,"y":-0.155},
{"p":33,"x":-0.004,"y":0.157},{"p":33,"x":-0.001,"y":0.153},{"p":33,"x":0.004,"y":0.151},{"p":33,"x":0.009,"y":0.153},{"p":33,"x":0.012,"y":0.157},{"p":33,"x":0.009,"y":0.162},{"p":33,"x":0.004,"y":0.164},{"p":33,"x":-0.001,"y":0.162}
]},"mark":{"type":"line","interpolate":"catmull-rom-closed","fill":"black","stroke":"#000","strokeWidth":0.3,"clip":true},"encoding":{"x":{"field":"x","type":"quantitative"},"y":{"field":"y","type":"quantitative"},"detail":{"field":"p"},"order":{"value":null}}}]},{"width":26,"height":408,"data":{"values":[{"l":-30,"h":-28},{"l":-28,"h":-26},{"l":-26,"h":-24},{"l":-24,"h":-22},{"l":-22,"h":-20},{"l":-20,"h":-18},{"l":-18,"h":-16},{"l":-16,"h":-14},{"l":-14,"h":-12},{"l":-12,"h":-10},{"l":-10,"h":-8},{"l":-8,"h":-6},{"l":-6,"h":-4},{"l":-4,"h":-2},{"l":-2,"h":0},{"l":0,"h":2}]},"mark":{"type":"rect","stroke":"#222","strokeWidth":1},"encoding":{"y":{"field":"l","type":"quantitative","scale":{"domain":[-30,2],"nice":false},"axis":{"orient":"right","values":[-30,-28,-26,-24,-22,-20,-18,-16,-14,-12,-10,-8,-6,-4,-2,0],"labelExpr":"datum.value+' dB'","title":null,"ticks":false,"domain":false,"grid":false,"labelFont":"Liberation Serif","labelFontSize":22,"labelColor":"black","labelPadding":4,"labelOverlap":false}},"y2":{"field":"h"},"fill":{"field":"l","type":"ordinal","legend":null,"scale":{"domain":[-30,-28,-26,-24,-22,-20,-18,-16,-14,-12,-10,-8,-6,-4,-2,0],"range":["#9966FF","#6633FF","#3333FF","#0000FF","#0055AA","#00AA55","#00FF00","#55FF00","#AAFF00","#FFFF00","#FFCC00","#FF9900","#FF6600","#FF4400","#FF2200","#FF0000"]}}}}]}
